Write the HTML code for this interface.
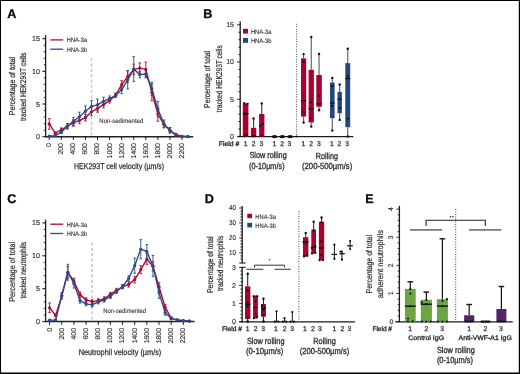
<!DOCTYPE html><html><head><meta charset="utf-8"><style>html,body{margin:0;padding:0;background:#fff;}svg{display:block;will-change:transform;}text{font-family:"Liberation Sans",sans-serif;stroke:#2a2a2a;stroke-width:0.32px;text-rendering:geometricPrecision;}</style></head><body>
<svg width="520" height="374" viewBox="0 0 520 374">
<rect x="0" y="0" width="520" height="374" fill="#fff"/>
<rect x="0" y="0" width="520" height="1" fill="#000"/><rect x="0" y="0" width="1" height="374" fill="#000"/><rect x="518.8" y="0" width="1.2" height="374" fill="#000"/><rect x="0" y="372.5" width="520" height="1.5" fill="#000"/>
<line x1="45.6" y1="35.2" x2="45.6" y2="137.3" stroke="#1a1a1a" stroke-width="1.3" />
<line x1="42.4" y1="136.7" x2="45.6" y2="136.7" stroke="#1a1a1a" stroke-width="1.1" />
<text x="39.9" y="139.2" font-size="7.2" text-anchor="end" font-weight="normal" fill="#333" style="stroke-width:0.15px">0</text>
<line x1="43.8" y1="130.16" x2="45.6" y2="130.16" stroke="#1a1a1a" stroke-width="0.9" />
<line x1="43.8" y1="123.63" x2="45.6" y2="123.63" stroke="#1a1a1a" stroke-width="0.9" />
<line x1="43.8" y1="117.09" x2="45.6" y2="117.09" stroke="#1a1a1a" stroke-width="0.9" />
<line x1="43.8" y1="110.56" x2="45.6" y2="110.56" stroke="#1a1a1a" stroke-width="0.9" />
<line x1="42.4" y1="104.02" x2="45.6" y2="104.02" stroke="#1a1a1a" stroke-width="1.1" />
<text x="39.9" y="106.52" font-size="7.2" text-anchor="end" font-weight="normal" fill="#333" style="stroke-width:0.15px">5</text>
<line x1="43.8" y1="97.49" x2="45.6" y2="97.49" stroke="#1a1a1a" stroke-width="0.9" />
<line x1="43.8" y1="90.95" x2="45.6" y2="90.95" stroke="#1a1a1a" stroke-width="0.9" />
<line x1="43.8" y1="84.42" x2="45.6" y2="84.42" stroke="#1a1a1a" stroke-width="0.9" />
<line x1="43.8" y1="77.88" x2="45.6" y2="77.88" stroke="#1a1a1a" stroke-width="0.9" />
<line x1="42.4" y1="71.35" x2="45.6" y2="71.35" stroke="#1a1a1a" stroke-width="1.1" />
<text x="39.9" y="73.85" font-size="7.2" text-anchor="end" font-weight="normal" fill="#333" style="stroke-width:0.15px">10</text>
<line x1="43.8" y1="64.81" x2="45.6" y2="64.81" stroke="#1a1a1a" stroke-width="0.9" />
<line x1="43.8" y1="58.28" x2="45.6" y2="58.28" stroke="#1a1a1a" stroke-width="0.9" />
<line x1="43.8" y1="51.74" x2="45.6" y2="51.74" stroke="#1a1a1a" stroke-width="0.9" />
<line x1="43.8" y1="45.21" x2="45.6" y2="45.21" stroke="#1a1a1a" stroke-width="0.9" />
<line x1="42.4" y1="38.67" x2="45.6" y2="38.67" stroke="#1a1a1a" stroke-width="1.1" />
<text x="39.9" y="41.17" font-size="7.2" text-anchor="end" font-weight="normal" fill="#333" style="stroke-width:0.15px">15</text>
<line x1="45" y1="136.7" x2="193.19" y2="136.7" stroke="#222" stroke-width="1.5" />
<line x1="49.25" y1="136.7" x2="49.25" y2="139.9" stroke="#1a1a1a" stroke-width="1" />
<text transform="translate(51.15,143.1) rotate(-90)" font-size="6.9" text-anchor="end" font-weight="normal" fill="#333" style="stroke-width:0.15px">0</text>
<line x1="61.32" y1="136.7" x2="61.32" y2="139.9" stroke="#1a1a1a" stroke-width="1" />
<text transform="translate(63.22,143.1) rotate(-90)" font-size="6.9" text-anchor="end" font-weight="normal" fill="#333" style="stroke-width:0.15px">200</text>
<line x1="73.39" y1="136.7" x2="73.39" y2="139.9" stroke="#1a1a1a" stroke-width="1" />
<text transform="translate(75.29,143.1) rotate(-90)" font-size="6.9" text-anchor="end" font-weight="normal" fill="#333" style="stroke-width:0.15px">400</text>
<line x1="85.46" y1="136.7" x2="85.46" y2="139.9" stroke="#1a1a1a" stroke-width="1" />
<text transform="translate(87.36,143.1) rotate(-90)" font-size="6.9" text-anchor="end" font-weight="normal" fill="#333" style="stroke-width:0.15px">600</text>
<line x1="97.53" y1="136.7" x2="97.53" y2="139.9" stroke="#1a1a1a" stroke-width="1" />
<text transform="translate(99.43,143.1) rotate(-90)" font-size="6.9" text-anchor="end" font-weight="normal" fill="#333" style="stroke-width:0.15px">800</text>
<line x1="109.6" y1="136.7" x2="109.6" y2="139.9" stroke="#1a1a1a" stroke-width="1" />
<text transform="translate(111.5,143.1) rotate(-90)" font-size="6.9" text-anchor="end" font-weight="normal" fill="#333" style="stroke-width:0.15px">1000</text>
<line x1="121.67" y1="136.7" x2="121.67" y2="139.9" stroke="#1a1a1a" stroke-width="1" />
<text transform="translate(123.57,143.1) rotate(-90)" font-size="6.9" text-anchor="end" font-weight="normal" fill="#333" style="stroke-width:0.15px">1200</text>
<line x1="133.74" y1="136.7" x2="133.74" y2="139.9" stroke="#1a1a1a" stroke-width="1" />
<text transform="translate(135.64,143.1) rotate(-90)" font-size="6.9" text-anchor="end" font-weight="normal" fill="#333" style="stroke-width:0.15px">1400</text>
<line x1="145.81" y1="136.7" x2="145.81" y2="139.9" stroke="#1a1a1a" stroke-width="1" />
<text transform="translate(147.71,143.1) rotate(-90)" font-size="6.9" text-anchor="end" font-weight="normal" fill="#333" style="stroke-width:0.15px">1600</text>
<line x1="157.88" y1="136.7" x2="157.88" y2="139.9" stroke="#1a1a1a" stroke-width="1" />
<text transform="translate(159.78,143.1) rotate(-90)" font-size="6.9" text-anchor="end" font-weight="normal" fill="#333" style="stroke-width:0.15px">1800</text>
<line x1="169.95" y1="136.7" x2="169.95" y2="139.9" stroke="#1a1a1a" stroke-width="1" />
<text transform="translate(171.85,143.1) rotate(-90)" font-size="6.9" text-anchor="end" font-weight="normal" fill="#333" style="stroke-width:0.15px">2000</text>
<line x1="182.02" y1="136.7" x2="182.02" y2="139.9" stroke="#1a1a1a" stroke-width="1" />
<text transform="translate(183.92,143.1) rotate(-90)" font-size="6.9" text-anchor="end" font-weight="normal" fill="#333" style="stroke-width:0.15px">2200</text>
<line x1="91.5" y1="58.2" x2="91.5" y2="136.2" stroke="#c6c6c6" stroke-width="1.5" stroke-dasharray="3.1 2.2"/>
<text x="99.3" y="123" font-size="6.5" text-anchor="start" font-weight="normal" fill="#333" textLength="44" lengthAdjust="spacingAndGlyphs" style="stroke-width:0.1px">Non-sedimented</text>
<polyline points="49.25,123.96 55.28,133.24 61.32,129.84 67.36,126.24 73.39,122.98 79.42,120.36 85.46,117.75 91.5,111.87 97.53,108.34 103.56,104.55 109.6,100.37 115.64,95.27 121.67,84.62 127.7,76.58 133.74,69.39 139.78,68.08 145.81,69.39 151.84,92.26 157.88,114.02 163.92,124.41 169.95,130.23 175.99,135.59 182.02,136.37 188.06,136.57" fill="none" stroke="#b5062f" stroke-width="1.4" stroke-linejoin="round"/>
<line x1="49.25" y1="118.73" x2="49.25" y2="129.18" stroke="#b5062f" stroke-width="0.9" />
<line x1="47.95" y1="118.73" x2="50.55" y2="118.73" stroke="#b5062f" stroke-width="0.9" />
<line x1="47.95" y1="129.18" x2="50.55" y2="129.18" stroke="#b5062f" stroke-width="0.9" />
<circle cx="49.25" cy="123.96" r="1.6" fill="#b5062f"/>
<line x1="55.28" y1="131.93" x2="55.28" y2="134.54" stroke="#b5062f" stroke-width="0.9" />
<line x1="53.98" y1="131.93" x2="56.58" y2="131.93" stroke="#b5062f" stroke-width="0.9" />
<line x1="53.98" y1="134.54" x2="56.58" y2="134.54" stroke="#b5062f" stroke-width="0.9" />
<circle cx="55.28" cy="133.24" r="1.6" fill="#b5062f"/>
<line x1="61.32" y1="127.88" x2="61.32" y2="131.8" stroke="#b5062f" stroke-width="0.9" />
<line x1="60.02" y1="127.88" x2="62.62" y2="127.88" stroke="#b5062f" stroke-width="0.9" />
<line x1="60.02" y1="131.8" x2="62.62" y2="131.8" stroke="#b5062f" stroke-width="0.9" />
<circle cx="61.32" cy="129.84" r="1.6" fill="#b5062f"/>
<line x1="67.36" y1="123.63" x2="67.36" y2="128.86" stroke="#b5062f" stroke-width="0.9" />
<line x1="66.06" y1="123.63" x2="68.66" y2="123.63" stroke="#b5062f" stroke-width="0.9" />
<line x1="66.06" y1="128.86" x2="68.66" y2="128.86" stroke="#b5062f" stroke-width="0.9" />
<circle cx="67.36" cy="126.24" r="1.6" fill="#b5062f"/>
<line x1="73.39" y1="119.71" x2="73.39" y2="126.24" stroke="#b5062f" stroke-width="0.9" />
<line x1="72.09" y1="119.71" x2="74.69" y2="119.71" stroke="#b5062f" stroke-width="0.9" />
<line x1="72.09" y1="126.24" x2="74.69" y2="126.24" stroke="#b5062f" stroke-width="0.9" />
<circle cx="73.39" cy="122.98" r="1.6" fill="#b5062f"/>
<line x1="79.42" y1="117.09" x2="79.42" y2="123.63" stroke="#b5062f" stroke-width="0.9" />
<line x1="78.12" y1="117.09" x2="80.72" y2="117.09" stroke="#b5062f" stroke-width="0.9" />
<line x1="78.12" y1="123.63" x2="80.72" y2="123.63" stroke="#b5062f" stroke-width="0.9" />
<circle cx="79.42" cy="120.36" r="1.6" fill="#b5062f"/>
<line x1="85.46" y1="114.48" x2="85.46" y2="121.02" stroke="#b5062f" stroke-width="0.9" />
<line x1="84.16" y1="114.48" x2="86.76" y2="114.48" stroke="#b5062f" stroke-width="0.9" />
<line x1="84.16" y1="121.02" x2="86.76" y2="121.02" stroke="#b5062f" stroke-width="0.9" />
<circle cx="85.46" cy="117.75" r="1.6" fill="#b5062f"/>
<line x1="91.5" y1="107.95" x2="91.5" y2="115.79" stroke="#b5062f" stroke-width="0.9" />
<line x1="90.2" y1="107.95" x2="92.8" y2="107.95" stroke="#b5062f" stroke-width="0.9" />
<line x1="90.2" y1="115.79" x2="92.8" y2="115.79" stroke="#b5062f" stroke-width="0.9" />
<circle cx="91.5" cy="111.87" r="1.6" fill="#b5062f"/>
<line x1="97.53" y1="104.42" x2="97.53" y2="112.26" stroke="#b5062f" stroke-width="0.9" />
<line x1="96.23" y1="104.42" x2="98.83" y2="104.42" stroke="#b5062f" stroke-width="0.9" />
<line x1="96.23" y1="112.26" x2="98.83" y2="112.26" stroke="#b5062f" stroke-width="0.9" />
<circle cx="97.53" cy="108.34" r="1.6" fill="#b5062f"/>
<line x1="103.56" y1="101.28" x2="103.56" y2="107.82" stroke="#b5062f" stroke-width="0.9" />
<line x1="102.27" y1="101.28" x2="104.86" y2="101.28" stroke="#b5062f" stroke-width="0.9" />
<line x1="102.27" y1="107.82" x2="104.86" y2="107.82" stroke="#b5062f" stroke-width="0.9" />
<circle cx="103.56" cy="104.55" r="1.6" fill="#b5062f"/>
<line x1="109.6" y1="97.75" x2="109.6" y2="102.98" stroke="#b5062f" stroke-width="0.9" />
<line x1="108.3" y1="97.75" x2="110.9" y2="97.75" stroke="#b5062f" stroke-width="0.9" />
<line x1="108.3" y1="102.98" x2="110.9" y2="102.98" stroke="#b5062f" stroke-width="0.9" />
<circle cx="109.6" cy="100.37" r="1.6" fill="#b5062f"/>
<line x1="115.64" y1="93.31" x2="115.64" y2="97.23" stroke="#b5062f" stroke-width="0.9" />
<line x1="114.34" y1="93.31" x2="116.94" y2="93.31" stroke="#b5062f" stroke-width="0.9" />
<line x1="114.34" y1="97.23" x2="116.94" y2="97.23" stroke="#b5062f" stroke-width="0.9" />
<circle cx="115.64" cy="95.27" r="1.6" fill="#b5062f"/>
<line x1="121.67" y1="80.7" x2="121.67" y2="88.54" stroke="#b5062f" stroke-width="0.9" />
<line x1="120.37" y1="80.7" x2="122.97" y2="80.7" stroke="#b5062f" stroke-width="0.9" />
<line x1="120.37" y1="88.54" x2="122.97" y2="88.54" stroke="#b5062f" stroke-width="0.9" />
<circle cx="121.67" cy="84.62" r="1.6" fill="#b5062f"/>
<line x1="127.7" y1="70.7" x2="127.7" y2="82.46" stroke="#b5062f" stroke-width="0.9" />
<line x1="126.41" y1="70.7" x2="129" y2="70.7" stroke="#b5062f" stroke-width="0.9" />
<line x1="126.41" y1="82.46" x2="129" y2="82.46" stroke="#b5062f" stroke-width="0.9" />
<circle cx="127.7" cy="76.58" r="1.6" fill="#b5062f"/>
<line x1="133.74" y1="64.16" x2="133.74" y2="74.62" stroke="#b5062f" stroke-width="0.9" />
<line x1="132.44" y1="64.16" x2="135.04" y2="64.16" stroke="#b5062f" stroke-width="0.9" />
<line x1="132.44" y1="74.62" x2="135.04" y2="74.62" stroke="#b5062f" stroke-width="0.9" />
<circle cx="133.74" cy="69.39" r="1.6" fill="#b5062f"/>
<line x1="139.78" y1="62.85" x2="139.78" y2="73.31" stroke="#b5062f" stroke-width="0.9" />
<line x1="138.47" y1="62.85" x2="141.08" y2="62.85" stroke="#b5062f" stroke-width="0.9" />
<line x1="138.47" y1="73.31" x2="141.08" y2="73.31" stroke="#b5062f" stroke-width="0.9" />
<circle cx="139.78" cy="68.08" r="1.6" fill="#b5062f"/>
<line x1="145.81" y1="62.2" x2="145.81" y2="76.58" stroke="#b5062f" stroke-width="0.9" />
<line x1="144.51" y1="62.2" x2="147.11" y2="62.2" stroke="#b5062f" stroke-width="0.9" />
<line x1="144.51" y1="76.58" x2="147.11" y2="76.58" stroke="#b5062f" stroke-width="0.9" />
<circle cx="145.81" cy="69.39" r="1.6" fill="#b5062f"/>
<line x1="151.84" y1="83.77" x2="151.84" y2="100.76" stroke="#b5062f" stroke-width="0.9" />
<line x1="150.54" y1="83.77" x2="153.15" y2="83.77" stroke="#b5062f" stroke-width="0.9" />
<line x1="150.54" y1="100.76" x2="153.15" y2="100.76" stroke="#b5062f" stroke-width="0.9" />
<circle cx="151.84" cy="92.26" r="1.6" fill="#b5062f"/>
<line x1="157.88" y1="106.84" x2="157.88" y2="121.21" stroke="#b5062f" stroke-width="0.9" />
<line x1="156.58" y1="106.84" x2="159.18" y2="106.84" stroke="#b5062f" stroke-width="0.9" />
<line x1="156.58" y1="121.21" x2="159.18" y2="121.21" stroke="#b5062f" stroke-width="0.9" />
<circle cx="157.88" cy="114.02" r="1.6" fill="#b5062f"/>
<line x1="163.92" y1="121.15" x2="163.92" y2="127.68" stroke="#b5062f" stroke-width="0.9" />
<line x1="162.62" y1="121.15" x2="165.22" y2="121.15" stroke="#b5062f" stroke-width="0.9" />
<line x1="162.62" y1="127.68" x2="165.22" y2="127.68" stroke="#b5062f" stroke-width="0.9" />
<circle cx="163.92" cy="124.41" r="1.6" fill="#b5062f"/>
<line x1="169.95" y1="127.62" x2="169.95" y2="132.84" stroke="#b5062f" stroke-width="0.9" />
<line x1="168.65" y1="127.62" x2="171.25" y2="127.62" stroke="#b5062f" stroke-width="0.9" />
<line x1="168.65" y1="132.84" x2="171.25" y2="132.84" stroke="#b5062f" stroke-width="0.9" />
<circle cx="169.95" cy="130.23" r="1.6" fill="#b5062f"/>
<circle cx="175.99" cy="135.59" r="1.6" fill="#b5062f"/>
<circle cx="182.02" cy="136.37" r="1.6" fill="#b5062f"/>
<circle cx="188.06" cy="136.57" r="1.6" fill="#b5062f"/>
<polyline points="49.25,136.05 55.28,135.72 61.32,132.13 67.36,126.24 73.39,121.34 79.42,116.77 85.46,111.21 91.5,106.31 97.53,104.94 103.56,101.15 109.6,98.54 115.64,95.27 121.67,89.71 127.7,79.85 133.74,69.06 139.78,74.62 145.81,73.96 151.84,88.67 157.88,109.25 163.92,123.83 169.95,130.43 175.99,134.54 182.02,136.37 188.06,136.57" fill="none" stroke="#2b4a86" stroke-width="1.4" stroke-linejoin="round"/>
<circle cx="49.25" cy="136.05" r="1.6" fill="#2b4a86"/>
<circle cx="55.28" cy="135.72" r="1.6" fill="#2b4a86"/>
<line x1="61.32" y1="130.82" x2="61.32" y2="133.43" stroke="#2b4a86" stroke-width="0.9" />
<line x1="60.02" y1="130.82" x2="62.62" y2="130.82" stroke="#2b4a86" stroke-width="0.9" />
<line x1="60.02" y1="133.43" x2="62.62" y2="133.43" stroke="#2b4a86" stroke-width="0.9" />
<circle cx="61.32" cy="132.13" r="1.6" fill="#2b4a86"/>
<line x1="67.36" y1="123.63" x2="67.36" y2="128.86" stroke="#2b4a86" stroke-width="0.9" />
<line x1="66.06" y1="123.63" x2="68.66" y2="123.63" stroke="#2b4a86" stroke-width="0.9" />
<line x1="66.06" y1="128.86" x2="68.66" y2="128.86" stroke="#2b4a86" stroke-width="0.9" />
<circle cx="67.36" cy="126.24" r="1.6" fill="#2b4a86"/>
<line x1="73.39" y1="117.42" x2="73.39" y2="125.26" stroke="#2b4a86" stroke-width="0.9" />
<line x1="72.09" y1="117.42" x2="74.69" y2="117.42" stroke="#2b4a86" stroke-width="0.9" />
<line x1="72.09" y1="125.26" x2="74.69" y2="125.26" stroke="#2b4a86" stroke-width="0.9" />
<circle cx="73.39" cy="121.34" r="1.6" fill="#2b4a86"/>
<line x1="79.42" y1="112.19" x2="79.42" y2="121.34" stroke="#2b4a86" stroke-width="0.9" />
<line x1="78.12" y1="112.19" x2="80.72" y2="112.19" stroke="#2b4a86" stroke-width="0.9" />
<line x1="78.12" y1="121.34" x2="80.72" y2="121.34" stroke="#2b4a86" stroke-width="0.9" />
<circle cx="79.42" cy="116.77" r="1.6" fill="#2b4a86"/>
<line x1="85.46" y1="105.99" x2="85.46" y2="116.44" stroke="#2b4a86" stroke-width="0.9" />
<line x1="84.16" y1="105.99" x2="86.76" y2="105.99" stroke="#2b4a86" stroke-width="0.9" />
<line x1="84.16" y1="116.44" x2="86.76" y2="116.44" stroke="#2b4a86" stroke-width="0.9" />
<circle cx="85.46" cy="111.21" r="1.6" fill="#2b4a86"/>
<line x1="91.5" y1="100.43" x2="91.5" y2="112.19" stroke="#2b4a86" stroke-width="0.9" />
<line x1="90.2" y1="100.43" x2="92.8" y2="100.43" stroke="#2b4a86" stroke-width="0.9" />
<line x1="90.2" y1="112.19" x2="92.8" y2="112.19" stroke="#2b4a86" stroke-width="0.9" />
<circle cx="91.5" cy="106.31" r="1.6" fill="#2b4a86"/>
<line x1="97.53" y1="99.06" x2="97.53" y2="110.82" stroke="#2b4a86" stroke-width="0.9" />
<line x1="96.23" y1="99.06" x2="98.83" y2="99.06" stroke="#2b4a86" stroke-width="0.9" />
<line x1="96.23" y1="110.82" x2="98.83" y2="110.82" stroke="#2b4a86" stroke-width="0.9" />
<circle cx="97.53" cy="104.94" r="1.6" fill="#2b4a86"/>
<line x1="103.56" y1="97.23" x2="103.56" y2="105.07" stroke="#2b4a86" stroke-width="0.9" />
<line x1="102.27" y1="97.23" x2="104.86" y2="97.23" stroke="#2b4a86" stroke-width="0.9" />
<line x1="102.27" y1="105.07" x2="104.86" y2="105.07" stroke="#2b4a86" stroke-width="0.9" />
<circle cx="103.56" cy="101.15" r="1.6" fill="#2b4a86"/>
<line x1="109.6" y1="95.92" x2="109.6" y2="101.15" stroke="#2b4a86" stroke-width="0.9" />
<line x1="108.3" y1="95.92" x2="110.9" y2="95.92" stroke="#2b4a86" stroke-width="0.9" />
<line x1="108.3" y1="101.15" x2="110.9" y2="101.15" stroke="#2b4a86" stroke-width="0.9" />
<circle cx="109.6" cy="98.54" r="1.6" fill="#2b4a86"/>
<line x1="115.64" y1="93.31" x2="115.64" y2="97.23" stroke="#2b4a86" stroke-width="0.9" />
<line x1="114.34" y1="93.31" x2="116.94" y2="93.31" stroke="#2b4a86" stroke-width="0.9" />
<line x1="114.34" y1="97.23" x2="116.94" y2="97.23" stroke="#2b4a86" stroke-width="0.9" />
<circle cx="115.64" cy="95.27" r="1.6" fill="#2b4a86"/>
<line x1="121.67" y1="85.79" x2="121.67" y2="93.63" stroke="#2b4a86" stroke-width="0.9" />
<line x1="120.37" y1="85.79" x2="122.97" y2="85.79" stroke="#2b4a86" stroke-width="0.9" />
<line x1="120.37" y1="93.63" x2="122.97" y2="93.63" stroke="#2b4a86" stroke-width="0.9" />
<circle cx="121.67" cy="89.71" r="1.6" fill="#2b4a86"/>
<line x1="127.7" y1="70.7" x2="127.7" y2="88.99" stroke="#2b4a86" stroke-width="0.9" />
<line x1="126.41" y1="70.7" x2="129" y2="70.7" stroke="#2b4a86" stroke-width="0.9" />
<line x1="126.41" y1="88.99" x2="129" y2="88.99" stroke="#2b4a86" stroke-width="0.9" />
<circle cx="127.7" cy="79.85" r="1.6" fill="#2b4a86"/>
<line x1="133.74" y1="56.65" x2="133.74" y2="81.48" stroke="#2b4a86" stroke-width="0.9" />
<line x1="132.44" y1="56.65" x2="135.04" y2="56.65" stroke="#2b4a86" stroke-width="0.9" />
<line x1="132.44" y1="81.48" x2="135.04" y2="81.48" stroke="#2b4a86" stroke-width="0.9" />
<circle cx="133.74" cy="69.06" r="1.6" fill="#2b4a86"/>
<line x1="139.78" y1="71.35" x2="139.78" y2="77.88" stroke="#2b4a86" stroke-width="0.9" />
<line x1="138.47" y1="71.35" x2="141.08" y2="71.35" stroke="#2b4a86" stroke-width="0.9" />
<line x1="138.47" y1="77.88" x2="141.08" y2="77.88" stroke="#2b4a86" stroke-width="0.9" />
<circle cx="139.78" cy="74.62" r="1.6" fill="#2b4a86"/>
<line x1="145.81" y1="70.04" x2="145.81" y2="77.88" stroke="#2b4a86" stroke-width="0.9" />
<line x1="144.51" y1="70.04" x2="147.11" y2="70.04" stroke="#2b4a86" stroke-width="0.9" />
<line x1="144.51" y1="77.88" x2="147.11" y2="77.88" stroke="#2b4a86" stroke-width="0.9" />
<circle cx="145.81" cy="73.96" r="1.6" fill="#2b4a86"/>
<line x1="151.84" y1="82.13" x2="151.84" y2="95.2" stroke="#2b4a86" stroke-width="0.9" />
<line x1="150.54" y1="82.13" x2="153.15" y2="82.13" stroke="#2b4a86" stroke-width="0.9" />
<line x1="150.54" y1="95.2" x2="153.15" y2="95.2" stroke="#2b4a86" stroke-width="0.9" />
<circle cx="151.84" cy="88.67" r="1.6" fill="#2b4a86"/>
<line x1="157.88" y1="101.41" x2="157.88" y2="117.09" stroke="#2b4a86" stroke-width="0.9" />
<line x1="156.58" y1="101.41" x2="159.18" y2="101.41" stroke="#2b4a86" stroke-width="0.9" />
<line x1="156.58" y1="117.09" x2="159.18" y2="117.09" stroke="#2b4a86" stroke-width="0.9" />
<circle cx="157.88" cy="109.25" r="1.6" fill="#2b4a86"/>
<line x1="163.92" y1="119.91" x2="163.92" y2="127.75" stroke="#2b4a86" stroke-width="0.9" />
<line x1="162.62" y1="119.91" x2="165.22" y2="119.91" stroke="#2b4a86" stroke-width="0.9" />
<line x1="162.62" y1="127.75" x2="165.22" y2="127.75" stroke="#2b4a86" stroke-width="0.9" />
<circle cx="163.92" cy="123.83" r="1.6" fill="#2b4a86"/>
<line x1="169.95" y1="127.81" x2="169.95" y2="133.04" stroke="#2b4a86" stroke-width="0.9" />
<line x1="168.65" y1="127.81" x2="171.25" y2="127.81" stroke="#2b4a86" stroke-width="0.9" />
<line x1="168.65" y1="133.04" x2="171.25" y2="133.04" stroke="#2b4a86" stroke-width="0.9" />
<circle cx="169.95" cy="130.43" r="1.6" fill="#2b4a86"/>
<line x1="175.99" y1="133.24" x2="175.99" y2="135.85" stroke="#2b4a86" stroke-width="0.9" />
<line x1="174.69" y1="133.24" x2="177.29" y2="133.24" stroke="#2b4a86" stroke-width="0.9" />
<line x1="174.69" y1="135.85" x2="177.29" y2="135.85" stroke="#2b4a86" stroke-width="0.9" />
<circle cx="175.99" cy="134.54" r="1.6" fill="#2b4a86"/>
<circle cx="182.02" cy="136.37" r="1.6" fill="#2b4a86"/>
<circle cx="188.06" cy="136.57" r="1.6" fill="#2b4a86"/>
<line x1="50.3" y1="39.9" x2="63.2" y2="39.9" stroke="#b5062f" stroke-width="1.3" />
<line x1="50.3" y1="49.2" x2="63.2" y2="49.2" stroke="#2b4a86" stroke-width="1.3" />
<text x="66.8" y="42.2" font-size="6.5" text-anchor="start" font-weight="normal" fill="#333" textLength="20.3" lengthAdjust="spacingAndGlyphs" style="stroke-width:0.12px">HNA-3a</text>
<text x="66.8" y="51.5" font-size="6.5" text-anchor="start" font-weight="normal" fill="#333" textLength="20.3" lengthAdjust="spacingAndGlyphs" style="stroke-width:0.12px">HNA-3b</text>
<text x="7.3" y="17.7" font-size="12.6" text-anchor="start" font-weight="bold" fill="#000">A</text>
<text transform="translate(15.2,86.1) rotate(-90)" font-size="8.4" text-anchor="middle" font-weight="normal" fill="#333" textLength="58.2" lengthAdjust="spacingAndGlyphs" style="stroke-width:0.22px">Percentage of total</text>
<text transform="translate(26.2,86.8) rotate(-90)" font-size="8.4" text-anchor="middle" font-weight="normal" fill="#333" textLength="68.6" lengthAdjust="spacingAndGlyphs" style="stroke-width:0.22px">tracked HEK293T cells</text>
<text x="74" y="169.2" font-size="8.4" text-anchor="start" font-weight="normal" fill="#333" textLength="90.2" lengthAdjust="spacingAndGlyphs" style="stroke-width:0.25px">HEK293T cell velocity (µm/s)</text>
<line x1="45.6" y1="219.8" x2="45.6" y2="322.2" stroke="#1a1a1a" stroke-width="1.3" />
<line x1="42.4" y1="321.6" x2="45.6" y2="321.6" stroke="#1a1a1a" stroke-width="1.1" />
<text x="39.9" y="324.1" font-size="7.2" text-anchor="end" font-weight="normal" fill="#333" style="stroke-width:0.15px">0</text>
<line x1="43.8" y1="315.02" x2="45.6" y2="315.02" stroke="#1a1a1a" stroke-width="0.9" />
<line x1="43.8" y1="308.44" x2="45.6" y2="308.44" stroke="#1a1a1a" stroke-width="0.9" />
<line x1="43.8" y1="301.86" x2="45.6" y2="301.86" stroke="#1a1a1a" stroke-width="0.9" />
<line x1="43.8" y1="295.28" x2="45.6" y2="295.28" stroke="#1a1a1a" stroke-width="0.9" />
<line x1="42.4" y1="288.7" x2="45.6" y2="288.7" stroke="#1a1a1a" stroke-width="1.1" />
<text x="39.9" y="291.2" font-size="7.2" text-anchor="end" font-weight="normal" fill="#333" style="stroke-width:0.15px">5</text>
<line x1="43.8" y1="282.12" x2="45.6" y2="282.12" stroke="#1a1a1a" stroke-width="0.9" />
<line x1="43.8" y1="275.54" x2="45.6" y2="275.54" stroke="#1a1a1a" stroke-width="0.9" />
<line x1="43.8" y1="268.96" x2="45.6" y2="268.96" stroke="#1a1a1a" stroke-width="0.9" />
<line x1="43.8" y1="262.38" x2="45.6" y2="262.38" stroke="#1a1a1a" stroke-width="0.9" />
<line x1="42.4" y1="255.8" x2="45.6" y2="255.8" stroke="#1a1a1a" stroke-width="1.1" />
<text x="39.9" y="258.3" font-size="7.2" text-anchor="end" font-weight="normal" fill="#333" style="stroke-width:0.15px">10</text>
<line x1="43.8" y1="249.22" x2="45.6" y2="249.22" stroke="#1a1a1a" stroke-width="0.9" />
<line x1="43.8" y1="242.64" x2="45.6" y2="242.64" stroke="#1a1a1a" stroke-width="0.9" />
<line x1="43.8" y1="236.06" x2="45.6" y2="236.06" stroke="#1a1a1a" stroke-width="0.9" />
<line x1="43.8" y1="229.48" x2="45.6" y2="229.48" stroke="#1a1a1a" stroke-width="0.9" />
<line x1="42.4" y1="222.9" x2="45.6" y2="222.9" stroke="#1a1a1a" stroke-width="1.1" />
<text x="39.9" y="225.4" font-size="7.2" text-anchor="end" font-weight="normal" fill="#333" style="stroke-width:0.15px">15</text>
<line x1="45" y1="321.6" x2="194.61" y2="321.6" stroke="#222" stroke-width="1.5" />
<line x1="49.6" y1="321.6" x2="49.6" y2="324.8" stroke="#1a1a1a" stroke-width="1" />
<text transform="translate(51.5,328) rotate(-90)" font-size="6.9" text-anchor="end" font-weight="normal" fill="#333" style="stroke-width:0.15px">0</text>
<line x1="61.76" y1="321.6" x2="61.76" y2="324.8" stroke="#1a1a1a" stroke-width="1" />
<text transform="translate(63.66,328) rotate(-90)" font-size="6.9" text-anchor="end" font-weight="normal" fill="#333" style="stroke-width:0.15px">200</text>
<line x1="73.92" y1="321.6" x2="73.92" y2="324.8" stroke="#1a1a1a" stroke-width="1" />
<text transform="translate(75.82,328) rotate(-90)" font-size="6.9" text-anchor="end" font-weight="normal" fill="#333" style="stroke-width:0.15px">400</text>
<line x1="86.08" y1="321.6" x2="86.08" y2="324.8" stroke="#1a1a1a" stroke-width="1" />
<text transform="translate(87.98,328) rotate(-90)" font-size="6.9" text-anchor="end" font-weight="normal" fill="#333" style="stroke-width:0.15px">600</text>
<line x1="98.24" y1="321.6" x2="98.24" y2="324.8" stroke="#1a1a1a" stroke-width="1" />
<text transform="translate(100.14,328) rotate(-90)" font-size="6.9" text-anchor="end" font-weight="normal" fill="#333" style="stroke-width:0.15px">800</text>
<line x1="110.4" y1="321.6" x2="110.4" y2="324.8" stroke="#1a1a1a" stroke-width="1" />
<text transform="translate(112.3,328) rotate(-90)" font-size="6.9" text-anchor="end" font-weight="normal" fill="#333" style="stroke-width:0.15px">1000</text>
<line x1="122.56" y1="321.6" x2="122.56" y2="324.8" stroke="#1a1a1a" stroke-width="1" />
<text transform="translate(124.46,328) rotate(-90)" font-size="6.9" text-anchor="end" font-weight="normal" fill="#333" style="stroke-width:0.15px">1200</text>
<line x1="134.72" y1="321.6" x2="134.72" y2="324.8" stroke="#1a1a1a" stroke-width="1" />
<text transform="translate(136.62,328) rotate(-90)" font-size="6.9" text-anchor="end" font-weight="normal" fill="#333" style="stroke-width:0.15px">1400</text>
<line x1="146.88" y1="321.6" x2="146.88" y2="324.8" stroke="#1a1a1a" stroke-width="1" />
<text transform="translate(148.78,328) rotate(-90)" font-size="6.9" text-anchor="end" font-weight="normal" fill="#333" style="stroke-width:0.15px">1600</text>
<line x1="159.04" y1="321.6" x2="159.04" y2="324.8" stroke="#1a1a1a" stroke-width="1" />
<text transform="translate(160.94,328) rotate(-90)" font-size="6.9" text-anchor="end" font-weight="normal" fill="#333" style="stroke-width:0.15px">1800</text>
<line x1="171.2" y1="321.6" x2="171.2" y2="324.8" stroke="#1a1a1a" stroke-width="1" />
<text transform="translate(173.1,328) rotate(-90)" font-size="6.9" text-anchor="end" font-weight="normal" fill="#333" style="stroke-width:0.15px">2000</text>
<line x1="183.36" y1="321.6" x2="183.36" y2="324.8" stroke="#1a1a1a" stroke-width="1" />
<text transform="translate(185.26,328) rotate(-90)" font-size="6.9" text-anchor="end" font-weight="normal" fill="#333" style="stroke-width:0.15px">2200</text>
<line x1="92.16" y1="242.5" x2="92.16" y2="321.1" stroke="#c6c6c6" stroke-width="1.5" stroke-dasharray="3.1 2.2"/>
<text x="103.3" y="312.6" font-size="6.5" text-anchor="start" font-weight="normal" fill="#333" textLength="42.8" lengthAdjust="spacingAndGlyphs" style="stroke-width:0.1px">Non-sedimented</text>
<polyline points="49.6,307.78 55.68,315.41 61.76,295.94 67.84,272.51 73.92,281.46 80,294.62 86.08,299.89 92.16,301.66 98.24,300.68 104.32,298.77 110.4,294.36 116.48,290.28 122.56,286.73 128.64,284.42 134.72,279.62 140.8,269.62 146.88,259.09 152.96,266.33 159.04,286.73 165.12,307.12 171.2,318.31 177.28,319.89 183.36,320.61 189.44,321.07" fill="none" stroke="#b5062f" stroke-width="1.4" stroke-linejoin="round"/>
<line x1="49.6" y1="302.98" x2="49.6" y2="312.59" stroke="#b5062f" stroke-width="0.9" />
<line x1="48.3" y1="302.98" x2="50.9" y2="302.98" stroke="#b5062f" stroke-width="0.9" />
<line x1="48.3" y1="312.59" x2="50.9" y2="312.59" stroke="#b5062f" stroke-width="0.9" />
<circle cx="49.6" cy="307.78" r="1.6" fill="#b5062f"/>
<line x1="55.68" y1="314.1" x2="55.68" y2="316.73" stroke="#b5062f" stroke-width="0.9" />
<line x1="54.38" y1="314.1" x2="56.98" y2="314.1" stroke="#b5062f" stroke-width="0.9" />
<line x1="54.38" y1="316.73" x2="56.98" y2="316.73" stroke="#b5062f" stroke-width="0.9" />
<circle cx="55.68" cy="315.41" r="1.6" fill="#b5062f"/>
<line x1="61.76" y1="293.31" x2="61.76" y2="298.57" stroke="#b5062f" stroke-width="0.9" />
<line x1="60.46" y1="293.31" x2="63.06" y2="293.31" stroke="#b5062f" stroke-width="0.9" />
<line x1="60.46" y1="298.57" x2="63.06" y2="298.57" stroke="#b5062f" stroke-width="0.9" />
<circle cx="61.76" cy="295.94" r="1.6" fill="#b5062f"/>
<line x1="67.84" y1="266.59" x2="67.84" y2="278.44" stroke="#b5062f" stroke-width="0.9" />
<line x1="66.54" y1="266.59" x2="69.14" y2="266.59" stroke="#b5062f" stroke-width="0.9" />
<line x1="66.54" y1="278.44" x2="69.14" y2="278.44" stroke="#b5062f" stroke-width="0.9" />
<circle cx="67.84" cy="272.51" r="1.6" fill="#b5062f"/>
<line x1="73.92" y1="278.17" x2="73.92" y2="284.75" stroke="#b5062f" stroke-width="0.9" />
<line x1="72.62" y1="278.17" x2="75.22" y2="278.17" stroke="#b5062f" stroke-width="0.9" />
<line x1="72.62" y1="284.75" x2="75.22" y2="284.75" stroke="#b5062f" stroke-width="0.9" />
<circle cx="73.92" cy="281.46" r="1.6" fill="#b5062f"/>
<line x1="80" y1="291.99" x2="80" y2="297.25" stroke="#b5062f" stroke-width="0.9" />
<line x1="78.7" y1="291.99" x2="81.3" y2="291.99" stroke="#b5062f" stroke-width="0.9" />
<line x1="78.7" y1="297.25" x2="81.3" y2="297.25" stroke="#b5062f" stroke-width="0.9" />
<circle cx="80" cy="294.62" r="1.6" fill="#b5062f"/>
<line x1="86.08" y1="297.91" x2="86.08" y2="301.86" stroke="#b5062f" stroke-width="0.9" />
<line x1="84.78" y1="297.91" x2="87.38" y2="297.91" stroke="#b5062f" stroke-width="0.9" />
<line x1="84.78" y1="301.86" x2="87.38" y2="301.86" stroke="#b5062f" stroke-width="0.9" />
<circle cx="86.08" cy="299.89" r="1.6" fill="#b5062f"/>
<line x1="92.16" y1="299.69" x2="92.16" y2="303.64" stroke="#b5062f" stroke-width="0.9" />
<line x1="90.86" y1="299.69" x2="93.46" y2="299.69" stroke="#b5062f" stroke-width="0.9" />
<line x1="90.86" y1="303.64" x2="93.46" y2="303.64" stroke="#b5062f" stroke-width="0.9" />
<circle cx="92.16" cy="301.66" r="1.6" fill="#b5062f"/>
<line x1="98.24" y1="298.7" x2="98.24" y2="302.65" stroke="#b5062f" stroke-width="0.9" />
<line x1="96.94" y1="298.7" x2="99.54" y2="298.7" stroke="#b5062f" stroke-width="0.9" />
<line x1="96.94" y1="302.65" x2="99.54" y2="302.65" stroke="#b5062f" stroke-width="0.9" />
<circle cx="98.24" cy="300.68" r="1.6" fill="#b5062f"/>
<line x1="104.32" y1="296.79" x2="104.32" y2="300.74" stroke="#b5062f" stroke-width="0.9" />
<line x1="103.02" y1="296.79" x2="105.62" y2="296.79" stroke="#b5062f" stroke-width="0.9" />
<line x1="103.02" y1="300.74" x2="105.62" y2="300.74" stroke="#b5062f" stroke-width="0.9" />
<circle cx="104.32" cy="298.77" r="1.6" fill="#b5062f"/>
<line x1="110.4" y1="292.38" x2="110.4" y2="296.33" stroke="#b5062f" stroke-width="0.9" />
<line x1="109.1" y1="292.38" x2="111.7" y2="292.38" stroke="#b5062f" stroke-width="0.9" />
<line x1="109.1" y1="296.33" x2="111.7" y2="296.33" stroke="#b5062f" stroke-width="0.9" />
<circle cx="110.4" cy="294.36" r="1.6" fill="#b5062f"/>
<line x1="116.48" y1="288.31" x2="116.48" y2="292.25" stroke="#b5062f" stroke-width="0.9" />
<line x1="115.18" y1="288.31" x2="117.78" y2="288.31" stroke="#b5062f" stroke-width="0.9" />
<line x1="115.18" y1="292.25" x2="117.78" y2="292.25" stroke="#b5062f" stroke-width="0.9" />
<circle cx="116.48" cy="290.28" r="1.6" fill="#b5062f"/>
<line x1="122.56" y1="284.75" x2="122.56" y2="288.7" stroke="#b5062f" stroke-width="0.9" />
<line x1="121.26" y1="284.75" x2="123.86" y2="284.75" stroke="#b5062f" stroke-width="0.9" />
<line x1="121.26" y1="288.7" x2="123.86" y2="288.7" stroke="#b5062f" stroke-width="0.9" />
<circle cx="122.56" cy="286.73" r="1.6" fill="#b5062f"/>
<line x1="128.64" y1="281.79" x2="128.64" y2="287.06" stroke="#b5062f" stroke-width="0.9" />
<line x1="127.34" y1="281.79" x2="129.94" y2="281.79" stroke="#b5062f" stroke-width="0.9" />
<line x1="127.34" y1="287.06" x2="129.94" y2="287.06" stroke="#b5062f" stroke-width="0.9" />
<circle cx="128.64" cy="284.42" r="1.6" fill="#b5062f"/>
<line x1="134.72" y1="276.33" x2="134.72" y2="282.91" stroke="#b5062f" stroke-width="0.9" />
<line x1="133.42" y1="276.33" x2="136.02" y2="276.33" stroke="#b5062f" stroke-width="0.9" />
<line x1="133.42" y1="282.91" x2="136.02" y2="282.91" stroke="#b5062f" stroke-width="0.9" />
<circle cx="134.72" cy="279.62" r="1.6" fill="#b5062f"/>
<line x1="140.8" y1="265.67" x2="140.8" y2="273.57" stroke="#b5062f" stroke-width="0.9" />
<line x1="139.5" y1="265.67" x2="142.1" y2="265.67" stroke="#b5062f" stroke-width="0.9" />
<line x1="139.5" y1="273.57" x2="142.1" y2="273.57" stroke="#b5062f" stroke-width="0.9" />
<circle cx="140.8" cy="269.62" r="1.6" fill="#b5062f"/>
<line x1="146.88" y1="253.83" x2="146.88" y2="264.35" stroke="#b5062f" stroke-width="0.9" />
<line x1="145.58" y1="253.83" x2="148.18" y2="253.83" stroke="#b5062f" stroke-width="0.9" />
<line x1="145.58" y1="264.35" x2="148.18" y2="264.35" stroke="#b5062f" stroke-width="0.9" />
<circle cx="146.88" cy="259.09" r="1.6" fill="#b5062f"/>
<line x1="152.96" y1="261.72" x2="152.96" y2="270.93" stroke="#b5062f" stroke-width="0.9" />
<line x1="151.66" y1="261.72" x2="154.26" y2="261.72" stroke="#b5062f" stroke-width="0.9" />
<line x1="151.66" y1="270.93" x2="154.26" y2="270.93" stroke="#b5062f" stroke-width="0.9" />
<circle cx="152.96" cy="266.33" r="1.6" fill="#b5062f"/>
<line x1="159.04" y1="282.78" x2="159.04" y2="290.67" stroke="#b5062f" stroke-width="0.9" />
<line x1="157.74" y1="282.78" x2="160.34" y2="282.78" stroke="#b5062f" stroke-width="0.9" />
<line x1="157.74" y1="290.67" x2="160.34" y2="290.67" stroke="#b5062f" stroke-width="0.9" />
<circle cx="159.04" cy="286.73" r="1.6" fill="#b5062f"/>
<line x1="165.12" y1="304.49" x2="165.12" y2="309.76" stroke="#b5062f" stroke-width="0.9" />
<line x1="163.82" y1="304.49" x2="166.42" y2="304.49" stroke="#b5062f" stroke-width="0.9" />
<line x1="163.82" y1="309.76" x2="166.42" y2="309.76" stroke="#b5062f" stroke-width="0.9" />
<circle cx="165.12" cy="307.12" r="1.6" fill="#b5062f"/>
<line x1="171.2" y1="316.99" x2="171.2" y2="319.63" stroke="#b5062f" stroke-width="0.9" />
<line x1="169.9" y1="316.99" x2="172.5" y2="316.99" stroke="#b5062f" stroke-width="0.9" />
<line x1="169.9" y1="319.63" x2="172.5" y2="319.63" stroke="#b5062f" stroke-width="0.9" />
<circle cx="171.2" cy="318.31" r="1.6" fill="#b5062f"/>
<circle cx="177.28" cy="319.89" r="1.6" fill="#b5062f"/>
<circle cx="183.36" cy="320.61" r="1.6" fill="#b5062f"/>
<circle cx="189.44" cy="321.07" r="1.6" fill="#b5062f"/>
<polyline points="49.6,320.15 55.68,319.96 61.76,295.61 67.84,272.25 73.92,283.44 80,300.54 86.08,303.83 92.16,304.82 98.24,301.86 104.32,300.02 110.4,296.4 116.48,291.53 122.56,286.73 128.64,278.44 134.72,265.67 140.8,249.22 146.88,251.52 152.96,265.93 159.04,292.45 165.12,312.65 171.2,318.31 177.28,319.89 183.36,320.61 189.44,321.07" fill="none" stroke="#2b4a86" stroke-width="1.4" stroke-linejoin="round"/>
<circle cx="49.6" cy="320.15" r="1.6" fill="#2b4a86"/>
<circle cx="55.68" cy="319.96" r="1.6" fill="#2b4a86"/>
<line x1="61.76" y1="292.32" x2="61.76" y2="298.9" stroke="#2b4a86" stroke-width="0.9" />
<line x1="60.46" y1="292.32" x2="63.06" y2="292.32" stroke="#2b4a86" stroke-width="0.9" />
<line x1="60.46" y1="298.9" x2="63.06" y2="298.9" stroke="#2b4a86" stroke-width="0.9" />
<circle cx="61.76" cy="295.61" r="1.6" fill="#2b4a86"/>
<line x1="67.84" y1="264.35" x2="67.84" y2="280.15" stroke="#2b4a86" stroke-width="0.9" />
<line x1="66.54" y1="264.35" x2="69.14" y2="264.35" stroke="#2b4a86" stroke-width="0.9" />
<line x1="66.54" y1="280.15" x2="69.14" y2="280.15" stroke="#2b4a86" stroke-width="0.9" />
<circle cx="67.84" cy="272.25" r="1.6" fill="#2b4a86"/>
<line x1="73.92" y1="278.83" x2="73.92" y2="288.04" stroke="#2b4a86" stroke-width="0.9" />
<line x1="72.62" y1="278.83" x2="75.22" y2="278.83" stroke="#2b4a86" stroke-width="0.9" />
<line x1="72.62" y1="288.04" x2="75.22" y2="288.04" stroke="#2b4a86" stroke-width="0.9" />
<circle cx="73.92" cy="283.44" r="1.6" fill="#2b4a86"/>
<line x1="80" y1="297.91" x2="80" y2="303.18" stroke="#2b4a86" stroke-width="0.9" />
<line x1="78.7" y1="297.91" x2="81.3" y2="297.91" stroke="#2b4a86" stroke-width="0.9" />
<line x1="78.7" y1="303.18" x2="81.3" y2="303.18" stroke="#2b4a86" stroke-width="0.9" />
<circle cx="80" cy="300.54" r="1.6" fill="#2b4a86"/>
<line x1="86.08" y1="301.86" x2="86.08" y2="305.81" stroke="#2b4a86" stroke-width="0.9" />
<line x1="84.78" y1="301.86" x2="87.38" y2="301.86" stroke="#2b4a86" stroke-width="0.9" />
<line x1="84.78" y1="305.81" x2="87.38" y2="305.81" stroke="#2b4a86" stroke-width="0.9" />
<circle cx="86.08" cy="303.83" r="1.6" fill="#2b4a86"/>
<line x1="92.16" y1="302.85" x2="92.16" y2="306.8" stroke="#2b4a86" stroke-width="0.9" />
<line x1="90.86" y1="302.85" x2="93.46" y2="302.85" stroke="#2b4a86" stroke-width="0.9" />
<line x1="90.86" y1="306.8" x2="93.46" y2="306.8" stroke="#2b4a86" stroke-width="0.9" />
<circle cx="92.16" cy="304.82" r="1.6" fill="#2b4a86"/>
<line x1="98.24" y1="299.89" x2="98.24" y2="303.83" stroke="#2b4a86" stroke-width="0.9" />
<line x1="96.94" y1="299.89" x2="99.54" y2="299.89" stroke="#2b4a86" stroke-width="0.9" />
<line x1="96.94" y1="303.83" x2="99.54" y2="303.83" stroke="#2b4a86" stroke-width="0.9" />
<circle cx="98.24" cy="301.86" r="1.6" fill="#2b4a86"/>
<line x1="104.32" y1="298.04" x2="104.32" y2="301.99" stroke="#2b4a86" stroke-width="0.9" />
<line x1="103.02" y1="298.04" x2="105.62" y2="298.04" stroke="#2b4a86" stroke-width="0.9" />
<line x1="103.02" y1="301.99" x2="105.62" y2="301.99" stroke="#2b4a86" stroke-width="0.9" />
<circle cx="104.32" cy="300.02" r="1.6" fill="#2b4a86"/>
<line x1="110.4" y1="294.42" x2="110.4" y2="298.37" stroke="#2b4a86" stroke-width="0.9" />
<line x1="109.1" y1="294.42" x2="111.7" y2="294.42" stroke="#2b4a86" stroke-width="0.9" />
<line x1="109.1" y1="298.37" x2="111.7" y2="298.37" stroke="#2b4a86" stroke-width="0.9" />
<circle cx="110.4" cy="296.4" r="1.6" fill="#2b4a86"/>
<line x1="116.48" y1="289.56" x2="116.48" y2="293.5" stroke="#2b4a86" stroke-width="0.9" />
<line x1="115.18" y1="289.56" x2="117.78" y2="289.56" stroke="#2b4a86" stroke-width="0.9" />
<line x1="115.18" y1="293.5" x2="117.78" y2="293.5" stroke="#2b4a86" stroke-width="0.9" />
<circle cx="116.48" cy="291.53" r="1.6" fill="#2b4a86"/>
<line x1="122.56" y1="284.75" x2="122.56" y2="288.7" stroke="#2b4a86" stroke-width="0.9" />
<line x1="121.26" y1="284.75" x2="123.86" y2="284.75" stroke="#2b4a86" stroke-width="0.9" />
<line x1="121.26" y1="288.7" x2="123.86" y2="288.7" stroke="#2b4a86" stroke-width="0.9" />
<circle cx="122.56" cy="286.73" r="1.6" fill="#2b4a86"/>
<line x1="128.64" y1="275.8" x2="128.64" y2="281.07" stroke="#2b4a86" stroke-width="0.9" />
<line x1="127.34" y1="275.8" x2="129.94" y2="275.8" stroke="#2b4a86" stroke-width="0.9" />
<line x1="127.34" y1="281.07" x2="129.94" y2="281.07" stroke="#2b4a86" stroke-width="0.9" />
<circle cx="128.64" cy="278.44" r="1.6" fill="#2b4a86"/>
<line x1="134.72" y1="258.1" x2="134.72" y2="273.24" stroke="#2b4a86" stroke-width="0.9" />
<line x1="133.42" y1="258.1" x2="136.02" y2="258.1" stroke="#2b4a86" stroke-width="0.9" />
<line x1="133.42" y1="273.24" x2="136.02" y2="273.24" stroke="#2b4a86" stroke-width="0.9" />
<circle cx="134.72" cy="265.67" r="1.6" fill="#2b4a86"/>
<line x1="140.8" y1="239.61" x2="140.8" y2="258.83" stroke="#2b4a86" stroke-width="0.9" />
<line x1="139.5" y1="239.61" x2="142.1" y2="239.61" stroke="#2b4a86" stroke-width="0.9" />
<line x1="139.5" y1="258.83" x2="142.1" y2="258.83" stroke="#2b4a86" stroke-width="0.9" />
<circle cx="140.8" cy="249.22" r="1.6" fill="#2b4a86"/>
<line x1="146.88" y1="244.61" x2="146.88" y2="258.43" stroke="#2b4a86" stroke-width="0.9" />
<line x1="145.58" y1="244.61" x2="148.18" y2="244.61" stroke="#2b4a86" stroke-width="0.9" />
<line x1="145.58" y1="258.43" x2="148.18" y2="258.43" stroke="#2b4a86" stroke-width="0.9" />
<circle cx="146.88" cy="251.52" r="1.6" fill="#2b4a86"/>
<line x1="152.96" y1="255.41" x2="152.96" y2="276.46" stroke="#2b4a86" stroke-width="0.9" />
<line x1="151.66" y1="255.41" x2="154.26" y2="255.41" stroke="#2b4a86" stroke-width="0.9" />
<line x1="151.66" y1="276.46" x2="154.26" y2="276.46" stroke="#2b4a86" stroke-width="0.9" />
<circle cx="152.96" cy="265.93" r="1.6" fill="#2b4a86"/>
<line x1="159.04" y1="286.53" x2="159.04" y2="298.37" stroke="#2b4a86" stroke-width="0.9" />
<line x1="157.74" y1="286.53" x2="160.34" y2="286.53" stroke="#2b4a86" stroke-width="0.9" />
<line x1="157.74" y1="298.37" x2="160.34" y2="298.37" stroke="#2b4a86" stroke-width="0.9" />
<circle cx="159.04" cy="292.45" r="1.6" fill="#2b4a86"/>
<line x1="165.12" y1="310.02" x2="165.12" y2="315.28" stroke="#2b4a86" stroke-width="0.9" />
<line x1="163.82" y1="310.02" x2="166.42" y2="310.02" stroke="#2b4a86" stroke-width="0.9" />
<line x1="163.82" y1="315.28" x2="166.42" y2="315.28" stroke="#2b4a86" stroke-width="0.9" />
<circle cx="165.12" cy="312.65" r="1.6" fill="#2b4a86"/>
<line x1="171.2" y1="316.99" x2="171.2" y2="319.63" stroke="#2b4a86" stroke-width="0.9" />
<line x1="169.9" y1="316.99" x2="172.5" y2="316.99" stroke="#2b4a86" stroke-width="0.9" />
<line x1="169.9" y1="319.63" x2="172.5" y2="319.63" stroke="#2b4a86" stroke-width="0.9" />
<circle cx="171.2" cy="318.31" r="1.6" fill="#2b4a86"/>
<circle cx="177.28" cy="319.89" r="1.6" fill="#2b4a86"/>
<circle cx="183.36" cy="320.61" r="1.6" fill="#2b4a86"/>
<circle cx="189.44" cy="321.07" r="1.6" fill="#2b4a86"/>
<line x1="50.3" y1="224.2" x2="63.2" y2="224.2" stroke="#b5062f" stroke-width="1.3" />
<line x1="50.3" y1="233.5" x2="63.2" y2="233.5" stroke="#2b4a86" stroke-width="1.3" />
<text x="66.8" y="226.5" font-size="6.5" text-anchor="start" font-weight="normal" fill="#333" textLength="20.3" lengthAdjust="spacingAndGlyphs" style="stroke-width:0.12px">HNA-3a</text>
<text x="66.8" y="235.8" font-size="6.5" text-anchor="start" font-weight="normal" fill="#333" textLength="20.3" lengthAdjust="spacingAndGlyphs" style="stroke-width:0.12px">HNA-3b</text>
<text x="7.3" y="202.6" font-size="12.6" text-anchor="start" font-weight="bold" fill="#000">C</text>
<text transform="translate(15.2,271.8) rotate(-90)" font-size="8.4" text-anchor="middle" font-weight="normal" fill="#333" textLength="59.9" lengthAdjust="spacingAndGlyphs" style="stroke-width:0.22px">Percentage of total</text>
<text transform="translate(26.2,270.2) rotate(-90)" font-size="8.4" text-anchor="middle" font-weight="normal" fill="#333" textLength="56.7" lengthAdjust="spacingAndGlyphs" style="stroke-width:0.22px">tracked neutrophils</text>
<text x="78.7" y="355" font-size="8.4" text-anchor="start" font-weight="normal" fill="#333" textLength="82.6" lengthAdjust="spacingAndGlyphs" style="stroke-width:0.25px">Neutrophil velocity (µm/s)</text>
<text x="203.2" y="18" font-size="12.6" text-anchor="start" font-weight="bold" fill="#000">B</text>
<line x1="240.2" y1="21.2" x2="240.2" y2="137" stroke="#1a1a1a" stroke-width="1.3" />
<line x1="237" y1="136.4" x2="240.2" y2="136.4" stroke="#1a1a1a" stroke-width="0.9" />
<line x1="237" y1="99.2" x2="240.2" y2="99.2" stroke="#1a1a1a" stroke-width="0.9" />
<line x1="237" y1="62" x2="240.2" y2="62" stroke="#1a1a1a" stroke-width="0.9" />
<line x1="237" y1="24.8" x2="240.2" y2="24.8" stroke="#1a1a1a" stroke-width="0.9" />
<line x1="238.4" y1="128.96" x2="240.2" y2="128.96" stroke="#1a1a1a" stroke-width="0.9" />
<line x1="238.4" y1="121.52" x2="240.2" y2="121.52" stroke="#1a1a1a" stroke-width="0.9" />
<line x1="238.4" y1="114.08" x2="240.2" y2="114.08" stroke="#1a1a1a" stroke-width="0.9" />
<line x1="238.4" y1="106.64" x2="240.2" y2="106.64" stroke="#1a1a1a" stroke-width="0.9" />
<line x1="238.4" y1="91.76" x2="240.2" y2="91.76" stroke="#1a1a1a" stroke-width="0.9" />
<line x1="238.4" y1="84.32" x2="240.2" y2="84.32" stroke="#1a1a1a" stroke-width="0.9" />
<line x1="238.4" y1="76.88" x2="240.2" y2="76.88" stroke="#1a1a1a" stroke-width="0.9" />
<line x1="238.4" y1="69.44" x2="240.2" y2="69.44" stroke="#1a1a1a" stroke-width="0.9" />
<line x1="238.4" y1="54.56" x2="240.2" y2="54.56" stroke="#1a1a1a" stroke-width="0.9" />
<line x1="238.4" y1="47.12" x2="240.2" y2="47.12" stroke="#1a1a1a" stroke-width="0.9" />
<line x1="238.4" y1="39.68" x2="240.2" y2="39.68" stroke="#1a1a1a" stroke-width="0.9" />
<line x1="238.4" y1="32.24" x2="240.2" y2="32.24" stroke="#1a1a1a" stroke-width="0.9" />
<text x="234" y="138.8" font-size="7" text-anchor="end" font-weight="normal" fill="#333" style="stroke-width:0.15px">0</text>
<text x="234" y="101.6" font-size="7" text-anchor="end" font-weight="normal" fill="#333" style="stroke-width:0.15px">5</text>
<text x="234" y="64.4" font-size="7" text-anchor="end" font-weight="normal" fill="#333" style="stroke-width:0.15px">10</text>
<text x="234" y="27.2" font-size="7" text-anchor="end" font-weight="normal" fill="#333" style="stroke-width:0.15px">15</text>
<line x1="237.7" y1="136.6" x2="353.3" y2="136.6" stroke="#1a1a1a" stroke-width="1.3" />
<line x1="296.6" y1="23.8" x2="296.6" y2="136" stroke="#333" stroke-width="1" stroke-dasharray="0.9 1.6"/>
<rect x="243" y="28.8" width="5" height="4.8" fill="#a9022f"/>
<rect x="243" y="38" width="5" height="4.8" fill="#26467e"/>
<text x="250.9" y="33.5" font-size="6.5" text-anchor="start" font-weight="normal" fill="#333" textLength="20.6" lengthAdjust="spacingAndGlyphs" style="stroke-width:0.12px">HNA-3a</text>
<text x="250.9" y="42.7" font-size="6.5" text-anchor="start" font-weight="normal" fill="#333" textLength="20.6" lengthAdjust="spacingAndGlyphs" style="stroke-width:0.12px">HNA-3b</text>
<rect x="242.8" y="103.4" width="5.6" height="33.2" fill="#a9022f"/>
<line x1="242.8" y1="113.7" x2="248.4" y2="113.7" stroke="#111" stroke-width="1.3" />
<circle cx="244.3" cy="103.2" r="1.15" fill="#111"/>
<circle cx="247.6" cy="103.8" r="1.15" fill="#111"/>
<circle cx="244.4" cy="113.7" r="1.15" fill="#111"/>
<circle cx="247.2" cy="113.7" r="1.15" fill="#111"/>
<circle cx="247" cy="134.6" r="1.15" fill="#111"/>
<circle cx="244.5" cy="136.2" r="1.15" fill="#111"/>
<line x1="253.6" y1="118.4" x2="253.6" y2="127.8" stroke="#333" stroke-width="1.1" />
<rect x="250.9" y="127.8" width="5.4" height="8.8" fill="#a9022f"/>
<circle cx="253.6" cy="118.4" r="1.2" fill="#111"/>
<circle cx="252" cy="136.2" r="1.15" fill="#111"/>
<circle cx="253.6" cy="136.2" r="1.15" fill="#111"/>
<circle cx="255.2" cy="136.2" r="1.15" fill="#111"/>
<line x1="261.75" y1="103.4" x2="261.75" y2="114" stroke="#333" stroke-width="1.1" />
<rect x="259.1" y="114" width="5.3" height="22.6" fill="#a9022f"/>
<circle cx="261.75" cy="103.4" r="1.2" fill="#111"/>
<circle cx="260.3" cy="125.9" r="1.15" fill="#111"/>
<circle cx="263" cy="123.9" r="1.15" fill="#111"/>
<circle cx="261.7" cy="136.2" r="1.15" fill="#111"/>
<ellipse cx="274.5" cy="136.6" rx="2.8" ry="1.55" fill="#111"/>
<ellipse cx="282.3" cy="136.6" rx="2.8" ry="1.55" fill="#111"/>
<ellipse cx="290.2" cy="136.6" rx="2.8" ry="1.55" fill="#111"/>
<circle cx="296.5" cy="136.4" r="0.9" fill="#111"/>
<line x1="303.6" y1="54.1" x2="303.6" y2="58.4" stroke="#5a5a5a" stroke-width="1.1" />
<line x1="303.6" y1="116.6" x2="303.6" y2="122.5" stroke="#5a5a5a" stroke-width="1.1" />
<rect x="301" y="58.4" width="5.2" height="58.2" fill="#a9022f"/>
<line x1="301" y1="100.7" x2="306.2" y2="100.7" stroke="#111" stroke-width="1.3" />
<circle cx="303.6" cy="54.1" r="1.2" fill="#111"/>
<circle cx="303.6" cy="122.5" r="1.2" fill="#111"/>
<circle cx="303.6" cy="61.8" r="1.15" fill="#111"/>
<circle cx="303.6" cy="111.9" r="1.15" fill="#111"/>
<line x1="311.25" y1="37" x2="311.25" y2="69.8" stroke="#5a5a5a" stroke-width="1.1" />
<line x1="311.25" y1="122.5" x2="311.25" y2="126.6" stroke="#5a5a5a" stroke-width="1.1" />
<rect x="308.6" y="69.8" width="5.3" height="52.7" fill="#a9022f"/>
<line x1="308.6" y1="108.8" x2="313.9" y2="108.8" stroke="#111" stroke-width="1.3" />
<circle cx="311.25" cy="37" r="1.2" fill="#111"/>
<circle cx="311.25" cy="126.6" r="1.2" fill="#111"/>
<circle cx="311.2" cy="102.2" r="1.15" fill="#111"/>
<circle cx="311.2" cy="118.1" r="1.15" fill="#111"/>
<line x1="319.05" y1="54" x2="319.05" y2="75" stroke="#5a5a5a" stroke-width="1.1" />
<line x1="319.05" y1="106.8" x2="319.05" y2="110.3" stroke="#5a5a5a" stroke-width="1.1" />
<rect x="316.3" y="75" width="5.5" height="31.8" fill="#a9022f"/>
<line x1="316.3" y1="103.8" x2="321.8" y2="103.8" stroke="#111" stroke-width="1.3" />
<circle cx="319.05" cy="54" r="1.2" fill="#111"/>
<circle cx="319.05" cy="110.3" r="1.2" fill="#111"/>
<circle cx="319" cy="95.7" r="1.15" fill="#111"/>
<line x1="332.3" y1="77.9" x2="332.3" y2="82.5" stroke="#5a5a5a" stroke-width="1.1" />
<line x1="332.3" y1="118.1" x2="332.3" y2="130.6" stroke="#5a5a5a" stroke-width="1.1" />
<rect x="330" y="82.5" width="4.6" height="35.6" fill="#26467e"/>
<line x1="330" y1="103.1" x2="334.6" y2="103.1" stroke="#111" stroke-width="1.3" />
<circle cx="332.3" cy="77.9" r="1.2" fill="#111"/>
<circle cx="332.3" cy="130.6" r="1.2" fill="#111"/>
<circle cx="332.3" cy="86.2" r="1.15" fill="#111"/>
<circle cx="332.3" cy="106" r="1.15" fill="#111"/>
<line x1="339.7" y1="84.4" x2="339.7" y2="91.9" stroke="#5a5a5a" stroke-width="1.1" />
<line x1="339.7" y1="113.2" x2="339.7" y2="119.9" stroke="#5a5a5a" stroke-width="1.1" />
<rect x="337.5" y="91.9" width="4.4" height="21.3" fill="#26467e"/>
<line x1="337.5" y1="99.3" x2="341.9" y2="99.3" stroke="#111" stroke-width="1.3" />
<circle cx="339.7" cy="84.4" r="1.2" fill="#111"/>
<circle cx="339.7" cy="119.9" r="1.2" fill="#111"/>
<circle cx="339.7" cy="108.1" r="1.15" fill="#111"/>
<line x1="347.75" y1="48.8" x2="347.75" y2="63.1" stroke="#5a5a5a" stroke-width="1.1" />
<line x1="347.75" y1="127.2" x2="347.75" y2="136.4" stroke="#5a5a5a" stroke-width="1.1" />
<rect x="345.3" y="63.1" width="4.9" height="64.1" fill="#26467e"/>
<line x1="345.3" y1="78.5" x2="350.2" y2="78.5" stroke="#111" stroke-width="1.3" />
<circle cx="347.75" cy="48.8" r="1.2" fill="#111"/>
<circle cx="347.75" cy="136.4" r="1.2" fill="#111"/>
<circle cx="347.7" cy="76.1" r="1.15" fill="#111"/>
<circle cx="347.7" cy="118.5" r="1.15" fill="#111"/>
<text x="218.8" y="145.6" font-size="6.6" text-anchor="start" font-weight="normal" fill="#333" textLength="20.5" lengthAdjust="spacingAndGlyphs">Field #</text>
<text x="245.7" y="145.5" font-size="6.8" text-anchor="middle" font-weight="normal" fill="#333" style="stroke-width:0.25px">1</text>
<text x="253.6" y="145.5" font-size="6.8" text-anchor="middle" font-weight="normal" fill="#333" style="stroke-width:0.25px">2</text>
<text x="261.3" y="145.5" font-size="6.8" text-anchor="middle" font-weight="normal" fill="#333" style="stroke-width:0.25px">3</text>
<text x="274.4" y="145.5" font-size="6.8" text-anchor="middle" font-weight="normal" fill="#333" style="stroke-width:0.25px">1</text>
<text x="282.1" y="145.5" font-size="6.8" text-anchor="middle" font-weight="normal" fill="#333" style="stroke-width:0.25px">2</text>
<text x="289.3" y="145.5" font-size="6.8" text-anchor="middle" font-weight="normal" fill="#333" style="stroke-width:0.25px">3</text>
<text x="303.5" y="145.5" font-size="6.8" text-anchor="middle" font-weight="normal" fill="#333" style="stroke-width:0.25px">1</text>
<text x="311.2" y="145.5" font-size="6.8" text-anchor="middle" font-weight="normal" fill="#333" style="stroke-width:0.25px">2</text>
<text x="318.9" y="145.5" font-size="6.8" text-anchor="middle" font-weight="normal" fill="#333" style="stroke-width:0.25px">3</text>
<text x="331.8" y="145.5" font-size="6.8" text-anchor="middle" font-weight="normal" fill="#333" style="stroke-width:0.25px">1</text>
<text x="339.5" y="145.5" font-size="6.8" text-anchor="middle" font-weight="normal" fill="#333" style="stroke-width:0.25px">2</text>
<text x="347.2" y="145.5" font-size="6.8" text-anchor="middle" font-weight="normal" fill="#333" style="stroke-width:0.25px">3</text>
<text x="249.5" y="158.4" font-size="8.8" text-anchor="start" font-weight="normal" fill="#333" textLength="37.2" lengthAdjust="spacingAndGlyphs">Slow rolling</text>
<text x="249.1" y="168.5" font-size="8.8" text-anchor="start" font-weight="normal" fill="#333" textLength="35.5" lengthAdjust="spacingAndGlyphs">(0-10µm/s)</text>
<text x="315.8" y="158.5" font-size="8.8" text-anchor="start" font-weight="normal" fill="#333" textLength="22.2" lengthAdjust="spacingAndGlyphs">Rolling</text>
<text x="302" y="168.5" font-size="8.8" text-anchor="start" font-weight="normal" fill="#333" textLength="50.3" lengthAdjust="spacingAndGlyphs">(200-500µm/s)</text>
<text transform="translate(210.3,79.4) rotate(-90)" font-size="8.4" text-anchor="middle" font-weight="normal" fill="#333" textLength="57" lengthAdjust="spacingAndGlyphs" style="stroke-width:0.22px">Percentage of total</text>
<text transform="translate(221.8,78.7) rotate(-90)" font-size="8.4" text-anchor="middle" font-weight="normal" fill="#333" textLength="67" lengthAdjust="spacingAndGlyphs" style="stroke-width:0.22px">tracked HEK293T cells</text>
<text x="204.8" y="202.9" font-size="12.6" text-anchor="start" font-weight="bold" fill="#000">D</text>
<line x1="242.2" y1="205.9" x2="242.2" y2="263" stroke="#1a1a1a" stroke-width="1.3" />
<line x1="242.2" y1="267.4" x2="242.2" y2="322.2" stroke="#1a1a1a" stroke-width="1.3" />
<line x1="239.2" y1="208" x2="242.2" y2="208" stroke="#1a1a1a" stroke-width="0.9" />
<line x1="239.2" y1="222.97" x2="242.2" y2="222.97" stroke="#1a1a1a" stroke-width="0.9" />
<line x1="239.2" y1="237.94" x2="242.2" y2="237.94" stroke="#1a1a1a" stroke-width="0.9" />
<line x1="239.2" y1="252.91" x2="242.2" y2="252.91" stroke="#1a1a1a" stroke-width="0.9" />
<line x1="240.4" y1="258.9" x2="242.2" y2="258.9" stroke="#1a1a1a" stroke-width="0.9" />
<line x1="240.4" y1="255.9" x2="242.2" y2="255.9" stroke="#1a1a1a" stroke-width="0.9" />
<line x1="240.4" y1="249.92" x2="242.2" y2="249.92" stroke="#1a1a1a" stroke-width="0.9" />
<line x1="240.4" y1="246.92" x2="242.2" y2="246.92" stroke="#1a1a1a" stroke-width="0.9" />
<line x1="240.4" y1="243.93" x2="242.2" y2="243.93" stroke="#1a1a1a" stroke-width="0.9" />
<line x1="240.4" y1="240.93" x2="242.2" y2="240.93" stroke="#1a1a1a" stroke-width="0.9" />
<line x1="240.4" y1="234.95" x2="242.2" y2="234.95" stroke="#1a1a1a" stroke-width="0.9" />
<line x1="240.4" y1="231.95" x2="242.2" y2="231.95" stroke="#1a1a1a" stroke-width="0.9" />
<line x1="240.4" y1="228.96" x2="242.2" y2="228.96" stroke="#1a1a1a" stroke-width="0.9" />
<line x1="240.4" y1="225.96" x2="242.2" y2="225.96" stroke="#1a1a1a" stroke-width="0.9" />
<line x1="240.4" y1="219.98" x2="242.2" y2="219.98" stroke="#1a1a1a" stroke-width="0.9" />
<line x1="240.4" y1="216.98" x2="242.2" y2="216.98" stroke="#1a1a1a" stroke-width="0.9" />
<line x1="240.4" y1="213.99" x2="242.2" y2="213.99" stroke="#1a1a1a" stroke-width="0.9" />
<line x1="240.4" y1="210.99" x2="242.2" y2="210.99" stroke="#1a1a1a" stroke-width="0.9" />
<line x1="239.3" y1="263" x2="245.6" y2="263" stroke="#1a1a1a" stroke-width="1.1" />
<line x1="239.3" y1="267.4" x2="245.6" y2="267.4" stroke="#1a1a1a" stroke-width="1.1" />
<line x1="239.2" y1="321.6" x2="242.2" y2="321.6" stroke="#1a1a1a" stroke-width="0.9" />
<line x1="239.2" y1="303.53" x2="242.2" y2="303.53" stroke="#1a1a1a" stroke-width="0.9" />
<line x1="239.2" y1="285.46" x2="242.2" y2="285.46" stroke="#1a1a1a" stroke-width="0.9" />
<line x1="240.4" y1="317.99" x2="242.2" y2="317.99" stroke="#1a1a1a" stroke-width="0.9" />
<line x1="240.4" y1="314.37" x2="242.2" y2="314.37" stroke="#1a1a1a" stroke-width="0.9" />
<line x1="240.4" y1="310.76" x2="242.2" y2="310.76" stroke="#1a1a1a" stroke-width="0.9" />
<line x1="240.4" y1="307.14" x2="242.2" y2="307.14" stroke="#1a1a1a" stroke-width="0.9" />
<line x1="240.4" y1="299.92" x2="242.2" y2="299.92" stroke="#1a1a1a" stroke-width="0.9" />
<line x1="240.4" y1="296.3" x2="242.2" y2="296.3" stroke="#1a1a1a" stroke-width="0.9" />
<line x1="240.4" y1="292.69" x2="242.2" y2="292.69" stroke="#1a1a1a" stroke-width="0.9" />
<line x1="240.4" y1="289.07" x2="242.2" y2="289.07" stroke="#1a1a1a" stroke-width="0.9" />
<line x1="240.4" y1="281.85" x2="242.2" y2="281.85" stroke="#1a1a1a" stroke-width="0.9" />
<line x1="240.4" y1="278.23" x2="242.2" y2="278.23" stroke="#1a1a1a" stroke-width="0.9" />
<line x1="240.4" y1="274.62" x2="242.2" y2="274.62" stroke="#1a1a1a" stroke-width="0.9" />
<line x1="240.4" y1="271" x2="242.2" y2="271" stroke="#1a1a1a" stroke-width="0.9" />
<text x="236" y="210.4" font-size="7" text-anchor="end" font-weight="normal" fill="#333" textLength="6.9" lengthAdjust="spacingAndGlyphs" style="stroke-width:0.15px">40</text>
<text x="236" y="225.37" font-size="7" text-anchor="end" font-weight="normal" fill="#333" textLength="6.9" lengthAdjust="spacingAndGlyphs" style="stroke-width:0.15px">30</text>
<text x="236" y="240.34" font-size="7" text-anchor="end" font-weight="normal" fill="#333" textLength="6.9" lengthAdjust="spacingAndGlyphs" style="stroke-width:0.15px">20</text>
<text x="236" y="255.31" font-size="7" text-anchor="end" font-weight="normal" fill="#333" textLength="6.9" lengthAdjust="spacingAndGlyphs" style="stroke-width:0.15px">10</text>
<text x="236" y="269.79" font-size="7" text-anchor="end" font-weight="normal" fill="#333" style="stroke-width:0.15px">3</text>
<text x="236" y="287.86" font-size="7" text-anchor="end" font-weight="normal" fill="#333" style="stroke-width:0.15px">2</text>
<text x="236" y="305.93" font-size="7" text-anchor="end" font-weight="normal" fill="#333" style="stroke-width:0.15px">1</text>
<text x="236" y="324" font-size="7" text-anchor="end" font-weight="normal" fill="#333" style="stroke-width:0.15px">0</text>
<line x1="239.3" y1="321.8" x2="355" y2="321.8" stroke="#1a1a1a" stroke-width="1.3" />
<line x1="298.9" y1="211" x2="298.9" y2="321" stroke="#333" stroke-width="1" stroke-dasharray="0.9 1.6"/>
<rect x="247.3" y="213.7" width="4.8" height="4.5" fill="#a9022f"/>
<rect x="247.3" y="222.8" width="4.8" height="4.6" fill="#26467e"/>
<text x="255.3" y="218.5" font-size="6.5" text-anchor="start" font-weight="normal" fill="#333" textLength="20.6" lengthAdjust="spacingAndGlyphs" style="stroke-width:0.12px">HNA-3a</text>
<text x="255.3" y="227.6" font-size="6.5" text-anchor="start" font-weight="normal" fill="#333" textLength="20.6" lengthAdjust="spacingAndGlyphs" style="stroke-width:0.12px">HNA-3b</text>
<polyline points="254.5,267.6 254.5,265.2 284.6,265.2 284.6,267.6" fill="none" stroke="#333" stroke-width="1.0"/>
<line x1="246.4" y1="269.3" x2="263.3" y2="269.3" stroke="#444" stroke-width="1.1" />
<line x1="274.4" y1="269.3" x2="290.8" y2="269.3" stroke="#444" stroke-width="1.1" />
<circle cx="269.5" cy="259.8" r="0.8" fill="#333"/>
<line x1="247.7" y1="273.8" x2="247.7" y2="286.4" stroke="#222" stroke-width="1.1" />
<line x1="247.7" y1="318.9" x2="247.7" y2="321.6" stroke="#222" stroke-width="1.1" />
<rect x="245" y="286.4" width="5.4" height="32.5" fill="#a9022f"/>
<line x1="245" y1="304.3" x2="250.4" y2="304.3" stroke="#111" stroke-width="1.3" />
<circle cx="247.7" cy="273.8" r="1.2" fill="#111"/>
<circle cx="247.7" cy="321.6" r="1.2" fill="#111"/>
<circle cx="247.7" cy="290.7" r="1.15" fill="#111"/>
<circle cx="247.6" cy="302.3" r="1.15" fill="#111"/>
<circle cx="247.6" cy="306.4" r="1.15" fill="#111"/>
<circle cx="247.6" cy="317.8" r="1.15" fill="#111"/>
<circle cx="247.6" cy="321.4" r="1.15" fill="#111"/>
<rect x="253.1" y="295.5" width="4.8" height="23" fill="#a9022f"/>
<line x1="253.1" y1="307.5" x2="257.9" y2="307.5" stroke="#111" stroke-width="1.3" />
<circle cx="253.6" cy="296.5" r="1.15" fill="#111"/>
<circle cx="257.3" cy="296.5" r="1.15" fill="#111"/>
<circle cx="255.6" cy="301.5" r="1.15" fill="#111"/>
<circle cx="255.6" cy="313.8" r="1.15" fill="#111"/>
<circle cx="254" cy="318.2" r="1.15" fill="#111"/>
<circle cx="257" cy="317" r="1.15" fill="#111"/>
<line x1="263.45" y1="298.8" x2="263.45" y2="304" stroke="#222" stroke-width="1.1" />
<line x1="263.45" y1="316.7" x2="263.45" y2="321.6" stroke="#222" stroke-width="1.1" />
<rect x="261" y="304" width="4.9" height="12.7" fill="#a9022f"/>
<line x1="261" y1="308.4" x2="265.9" y2="308.4" stroke="#111" stroke-width="1.3" />
<circle cx="263.45" cy="298.8" r="1.2" fill="#111"/>
<circle cx="263.45" cy="321.6" r="1.2" fill="#111"/>
<circle cx="262" cy="306" r="1.15" fill="#111"/>
<circle cx="265" cy="307.6" r="1.15" fill="#111"/>
<circle cx="263.5" cy="310.2" r="1.15" fill="#111"/>
<circle cx="263.5" cy="315.2" r="1.15" fill="#111"/>
<circle cx="263.5" cy="321.4" r="1.15" fill="#111"/>
<line x1="276.5" y1="311.3" x2="276.5" y2="321.6" stroke="#111" stroke-width="1" />
<circle cx="276.5" cy="311.3" r="1.1" fill="#111"/>
<circle cx="274.9" cy="321.7" r="1.1" fill="#111"/>
<circle cx="278.1" cy="321.7" r="1.1" fill="#111"/>
<line x1="284.5" y1="318.2" x2="284.5" y2="321.6" stroke="#111" stroke-width="1" />
<circle cx="284.5" cy="318.2" r="1.1" fill="#111"/>
<circle cx="282.9" cy="321.7" r="1.1" fill="#111"/>
<circle cx="286.1" cy="321.7" r="1.1" fill="#111"/>
<line x1="292.3" y1="312" x2="292.3" y2="321.6" stroke="#111" stroke-width="1" />
<circle cx="292.3" cy="312" r="1.1" fill="#111"/>
<circle cx="290.7" cy="321.7" r="1.1" fill="#111"/>
<circle cx="293.9" cy="321.7" r="1.1" fill="#111"/>
<line x1="305.7" y1="232.9" x2="305.7" y2="237.2" stroke="#333" stroke-width="1.1" />
<rect x="303" y="237.2" width="5.4" height="19.5" fill="#a9022f"/>
<line x1="303" y1="242" x2="308.4" y2="242" stroke="#111" stroke-width="1.3" />
<circle cx="305.7" cy="232.9" r="1.2" fill="#111"/>
<circle cx="304" cy="256.5" r="1.15" fill="#111"/>
<circle cx="307" cy="255.5" r="1.15" fill="#111"/>
<circle cx="303.6" cy="242" r="1.15" fill="#111"/>
<circle cx="307" cy="242" r="1.15" fill="#111"/>
<line x1="313.65" y1="221.8" x2="313.65" y2="229.6" stroke="#333" stroke-width="1.1" />
<rect x="311.3" y="229.6" width="4.7" height="24.2" fill="#a9022f"/>
<line x1="311.3" y1="247.3" x2="316" y2="247.3" stroke="#111" stroke-width="1.3" />
<circle cx="313.65" cy="221.8" r="1.2" fill="#111"/>
<circle cx="312" cy="248" r="1.15" fill="#111"/>
<circle cx="315.4" cy="246.5" r="1.15" fill="#111"/>
<circle cx="312" cy="253.6" r="1.15" fill="#111"/>
<circle cx="315.4" cy="252.6" r="1.15" fill="#111"/>
<circle cx="313.6" cy="230.5" r="1.15" fill="#111"/>
<line x1="321.55" y1="217.5" x2="321.55" y2="221.8" stroke="#333" stroke-width="1.1" />
<rect x="318.9" y="221.8" width="5.3" height="38.5" fill="#a9022f"/>
<line x1="318.9" y1="248" x2="324.2" y2="248" stroke="#111" stroke-width="1.3" />
<circle cx="321.55" cy="217.5" r="1.2" fill="#111"/>
<circle cx="321.4" cy="222.3" r="1.15" fill="#111"/>
<circle cx="321.4" cy="241.5" r="1.15" fill="#111"/>
<circle cx="321.4" cy="255" r="1.15" fill="#111"/>
<circle cx="319.6" cy="260.2" r="1.15" fill="#111"/>
<circle cx="323" cy="260.2" r="1.15" fill="#111"/>
<line x1="334.4" y1="244.7" x2="334.4" y2="258.9" stroke="#111" stroke-width="1" />
<circle cx="334.4" cy="244.7" r="1.1" fill="#111"/>
<circle cx="334.4" cy="258.9" r="1.1" fill="#111"/>
<line x1="331.6" y1="254.4" x2="337" y2="254.4" stroke="#111" stroke-width="1.3" />
<line x1="341.9" y1="251.6" x2="341.9" y2="259.7" stroke="#111" stroke-width="1" />
<circle cx="341.9" cy="251.6" r="1.1" fill="#111"/>
<circle cx="341.9" cy="259.7" r="1.1" fill="#111"/>
<line x1="339.4" y1="253.7" x2="344.8" y2="253.7" stroke="#111" stroke-width="1.3" />
<line x1="350.1" y1="241" x2="350.1" y2="249" stroke="#111" stroke-width="1" />
<circle cx="350.1" cy="241" r="1.1" fill="#111"/>
<circle cx="350.1" cy="249" r="1.1" fill="#111"/>
<line x1="347.2" y1="245.8" x2="352.8" y2="245.8" stroke="#111" stroke-width="1.3" />
<circle cx="340.4" cy="251.6" r="1" fill="#111"/>
<text x="222" y="330.8" font-size="6.6" text-anchor="start" font-weight="normal" fill="#333" textLength="20" lengthAdjust="spacingAndGlyphs">Field #</text>
<text x="247.7" y="330.5" font-size="6.8" text-anchor="middle" font-weight="normal" fill="#333" style="stroke-width:0.25px">1</text>
<text x="255.7" y="330.5" font-size="6.8" text-anchor="middle" font-weight="normal" fill="#333" style="stroke-width:0.25px">2</text>
<text x="263.2" y="330.5" font-size="6.8" text-anchor="middle" font-weight="normal" fill="#333" style="stroke-width:0.25px">3</text>
<text x="276" y="330.5" font-size="6.8" text-anchor="middle" font-weight="normal" fill="#333" style="stroke-width:0.25px">1</text>
<text x="284.7" y="330.5" font-size="6.8" text-anchor="middle" font-weight="normal" fill="#333" style="stroke-width:0.25px">2</text>
<text x="292.2" y="330.5" font-size="6.8" text-anchor="middle" font-weight="normal" fill="#333" style="stroke-width:0.25px">3</text>
<text x="304.9" y="330.5" font-size="6.8" text-anchor="middle" font-weight="normal" fill="#333" style="stroke-width:0.25px">1</text>
<text x="312.8" y="330.5" font-size="6.8" text-anchor="middle" font-weight="normal" fill="#333" style="stroke-width:0.25px">2</text>
<text x="319.9" y="330.5" font-size="6.8" text-anchor="middle" font-weight="normal" fill="#333" style="stroke-width:0.25px">3</text>
<text x="334.3" y="330.5" font-size="6.8" text-anchor="middle" font-weight="normal" fill="#333" style="stroke-width:0.25px">1</text>
<text x="342.4" y="330.5" font-size="6.8" text-anchor="middle" font-weight="normal" fill="#333" style="stroke-width:0.25px">2</text>
<text x="349.3" y="330.5" font-size="6.8" text-anchor="middle" font-weight="normal" fill="#333" style="stroke-width:0.25px">3</text>
<text x="246.9" y="344.2" font-size="8.8" text-anchor="start" font-weight="normal" fill="#333" textLength="37.6" lengthAdjust="spacingAndGlyphs">Slow rolling</text>
<text x="246" y="353.7" font-size="8.8" text-anchor="start" font-weight="normal" fill="#333" textLength="37.4" lengthAdjust="spacingAndGlyphs">(0-10µm/s)</text>
<text x="313.3" y="344.1" font-size="8.8" text-anchor="start" font-weight="normal" fill="#333" textLength="22.5" lengthAdjust="spacingAndGlyphs">Rolling</text>
<text x="299.7" y="354.3" font-size="8.8" text-anchor="start" font-weight="normal" fill="#333" textLength="49.6" lengthAdjust="spacingAndGlyphs">(200-500µm/s)</text>
<text transform="translate(212.6,264.7) rotate(-90)" font-size="8.4" text-anchor="middle" font-weight="normal" fill="#333" textLength="56.6" lengthAdjust="spacingAndGlyphs" style="stroke-width:0.22px">Percentage of total</text>
<text transform="translate(223.4,263.4) rotate(-90)" font-size="8.4" text-anchor="middle" font-weight="normal" fill="#333" textLength="55.3" lengthAdjust="spacingAndGlyphs" style="stroke-width:0.22px">tracked neutrophils</text>
<text x="365.3" y="202.5" font-size="12.6" text-anchor="start" font-weight="bold" fill="#000">E</text>
<line x1="399.4" y1="205.9" x2="399.4" y2="322.2" stroke="#1a1a1a" stroke-width="1.3" />
<line x1="396.4" y1="321.6" x2="399.4" y2="321.6" stroke="#1a1a1a" stroke-width="0.9" />
<line x1="396.4" y1="293.48" x2="399.4" y2="293.48" stroke="#1a1a1a" stroke-width="0.9" />
<line x1="396.4" y1="265.36" x2="399.4" y2="265.36" stroke="#1a1a1a" stroke-width="0.9" />
<line x1="396.4" y1="237.24" x2="399.4" y2="237.24" stroke="#1a1a1a" stroke-width="0.9" />
<line x1="396.4" y1="209.12" x2="399.4" y2="209.12" stroke="#1a1a1a" stroke-width="0.9" />
<line x1="397.6" y1="315.98" x2="399.4" y2="315.98" stroke="#1a1a1a" stroke-width="0.9" />
<line x1="397.6" y1="310.35" x2="399.4" y2="310.35" stroke="#1a1a1a" stroke-width="0.9" />
<line x1="397.6" y1="304.73" x2="399.4" y2="304.73" stroke="#1a1a1a" stroke-width="0.9" />
<line x1="397.6" y1="299.1" x2="399.4" y2="299.1" stroke="#1a1a1a" stroke-width="0.9" />
<line x1="397.6" y1="287.86" x2="399.4" y2="287.86" stroke="#1a1a1a" stroke-width="0.9" />
<line x1="397.6" y1="282.23" x2="399.4" y2="282.23" stroke="#1a1a1a" stroke-width="0.9" />
<line x1="397.6" y1="276.61" x2="399.4" y2="276.61" stroke="#1a1a1a" stroke-width="0.9" />
<line x1="397.6" y1="270.98" x2="399.4" y2="270.98" stroke="#1a1a1a" stroke-width="0.9" />
<line x1="397.6" y1="259.74" x2="399.4" y2="259.74" stroke="#1a1a1a" stroke-width="0.9" />
<line x1="397.6" y1="254.11" x2="399.4" y2="254.11" stroke="#1a1a1a" stroke-width="0.9" />
<line x1="397.6" y1="248.49" x2="399.4" y2="248.49" stroke="#1a1a1a" stroke-width="0.9" />
<line x1="397.6" y1="242.86" x2="399.4" y2="242.86" stroke="#1a1a1a" stroke-width="0.9" />
<line x1="397.6" y1="231.62" x2="399.4" y2="231.62" stroke="#1a1a1a" stroke-width="0.9" />
<line x1="397.6" y1="225.99" x2="399.4" y2="225.99" stroke="#1a1a1a" stroke-width="0.9" />
<line x1="397.6" y1="220.37" x2="399.4" y2="220.37" stroke="#1a1a1a" stroke-width="0.9" />
<line x1="397.6" y1="214.74" x2="399.4" y2="214.74" stroke="#1a1a1a" stroke-width="0.9" />
<text transform="translate(393.2,209.12) rotate(-90)" font-size="6.8" text-anchor="middle" font-weight="normal" fill="#333" style="stroke-width:0.15px">4</text>
<text transform="translate(393.2,237.24) rotate(-90)" font-size="6.8" text-anchor="middle" font-weight="normal" fill="#333" style="stroke-width:0.15px">3</text>
<text transform="translate(393.2,265.36) rotate(-90)" font-size="6.8" text-anchor="middle" font-weight="normal" fill="#333" style="stroke-width:0.15px">2</text>
<text transform="translate(393.2,293.48) rotate(-90)" font-size="6.8" text-anchor="middle" font-weight="normal" fill="#333" style="stroke-width:0.15px">1</text>
<text x="393.4" y="323.9" font-size="6.8" text-anchor="end" font-weight="normal" fill="#333" style="stroke-width:0.15px">0</text>
<line x1="395.2" y1="321.8" x2="512.8" y2="321.8" stroke="#1a1a1a" stroke-width="1.3" />
<line x1="455.7" y1="209.1" x2="455.7" y2="321" stroke="#333" stroke-width="1" stroke-dasharray="0.9 1.6"/>
<polyline points="426.1,226 426.1,220.3 485.3,220.3 485.3,226" fill="none" stroke="#222" stroke-width="1.1"/>
<line x1="410" y1="229.8" x2="442.1" y2="229.8" stroke="#7a7a7a" stroke-width="1.8" />
<line x1="469" y1="229.8" x2="501.4" y2="229.8" stroke="#7a7a7a" stroke-width="1.8" />
<circle cx="450.5" cy="216.8" r="0.8" fill="#333"/>
<circle cx="452.9" cy="216.8" r="0.8" fill="#333"/>
<line x1="410.3" y1="281.8" x2="410.3" y2="288.9" stroke="#111" stroke-width="1.2" />
<line x1="407.5" y1="281.8" x2="413.1" y2="281.8" stroke="#111" stroke-width="1.4" />
<rect x="404.9" y="288.9" width="10.8" height="32.7" fill="#6ca541"/>
<line x1="404.9" y1="306.2" x2="415.7" y2="306.2" stroke="#111" stroke-width="1.4" />
<circle cx="410.3" cy="289.2" r="1.1" fill="#111"/>
<circle cx="410.3" cy="293.6" r="1.1" fill="#111"/>
<circle cx="410.3" cy="306.2" r="1.1" fill="#111"/>
<circle cx="408" cy="318.5" r="1.1" fill="#111"/>
<circle cx="408" cy="321.5" r="1.1" fill="#111"/>
<circle cx="412.6" cy="321.3" r="1.1" fill="#111"/>
<line x1="426.35" y1="292.1" x2="426.35" y2="299.8" stroke="#111" stroke-width="1.2" />
<line x1="423.55" y1="292.1" x2="429.15" y2="292.1" stroke="#111" stroke-width="1.4" />
<rect x="420.8" y="299.8" width="11.1" height="21.8" fill="#6ca541"/>
<line x1="420.8" y1="304.2" x2="431.9" y2="304.2" stroke="#111" stroke-width="1.4" />
<circle cx="421.6" cy="302.4" r="1.1" fill="#111"/>
<circle cx="426.3" cy="300" r="1.1" fill="#111"/>
<circle cx="426.3" cy="304.2" r="1.1" fill="#111"/>
<circle cx="422" cy="321.5" r="1.1" fill="#111"/>
<circle cx="426.3" cy="321.5" r="1.1" fill="#111"/>
<circle cx="430.6" cy="321.5" r="1.1" fill="#111"/>
<line x1="442.4" y1="238.8" x2="442.4" y2="299.2" stroke="#111" stroke-width="1.2" />
<line x1="439.6" y1="238.8" x2="445.2" y2="238.8" stroke="#111" stroke-width="1.4" />
<rect x="436.9" y="299.2" width="11" height="22.4" fill="#6ca541"/>
<line x1="436.9" y1="306.1" x2="447.9" y2="306.1" stroke="#111" stroke-width="1.4" />
<circle cx="442.4" cy="300.8" r="1.1" fill="#111"/>
<circle cx="447" cy="299.2" r="1.1" fill="#111"/>
<circle cx="442.4" cy="306.1" r="1.1" fill="#111"/>
<circle cx="438" cy="321.5" r="1.1" fill="#111"/>
<circle cx="442.4" cy="321.5" r="1.1" fill="#111"/>
<circle cx="446.8" cy="321.5" r="1.1" fill="#111"/>
<line x1="469.2" y1="304.5" x2="469.2" y2="315.3" stroke="#111" stroke-width="1.2" />
<line x1="466.4" y1="304.5" x2="472" y2="304.5" stroke="#111" stroke-width="1.4" />
<rect x="464.1" y="315.3" width="10.2" height="6.3" fill="#522662"/>
<circle cx="465.5" cy="321.5" r="1.1" fill="#111"/>
<circle cx="467.5" cy="321.5" r="1.1" fill="#111"/>
<circle cx="469.2" cy="321.5" r="1.1" fill="#111"/>
<circle cx="471" cy="321.5" r="1.1" fill="#111"/>
<circle cx="473" cy="321.5" r="1.1" fill="#111"/>
<line x1="480.7" y1="321.6" x2="490.3" y2="321.6" stroke="#111" stroke-width="2.2" />
<line x1="501.4" y1="286.5" x2="501.4" y2="309" stroke="#111" stroke-width="1.2" />
<line x1="498.6" y1="286.5" x2="504.2" y2="286.5" stroke="#111" stroke-width="1.4" />
<rect x="496.4" y="309" width="10" height="12.6" fill="#522662"/>
<circle cx="497.8" cy="321.5" r="1.1" fill="#111"/>
<circle cx="499.8" cy="321.5" r="1.1" fill="#111"/>
<circle cx="501.5" cy="321.5" r="1.1" fill="#111"/>
<circle cx="503.3" cy="321.5" r="1.1" fill="#111"/>
<circle cx="505.2" cy="321.5" r="1.1" fill="#111"/>
<text x="372.4" y="330.8" font-size="6.6" text-anchor="start" font-weight="normal" fill="#333" textLength="19.6" lengthAdjust="spacingAndGlyphs">Field #</text>
<text x="410.2" y="330.8" font-size="6.8" text-anchor="middle" font-weight="normal" fill="#333" style="stroke-width:0.25px">1</text>
<text x="426.3" y="330.8" font-size="6.8" text-anchor="middle" font-weight="normal" fill="#333" style="stroke-width:0.25px">2</text>
<text x="442.1" y="330.8" font-size="6.8" text-anchor="middle" font-weight="normal" fill="#333" style="stroke-width:0.25px">3</text>
<text x="469.2" y="330.8" font-size="6.8" text-anchor="middle" font-weight="normal" fill="#333" style="stroke-width:0.25px">1</text>
<text x="485.3" y="330.8" font-size="6.8" text-anchor="middle" font-weight="normal" fill="#333" style="stroke-width:0.25px">2</text>
<text x="501" y="330.8" font-size="6.8" text-anchor="middle" font-weight="normal" fill="#333" style="stroke-width:0.25px">3</text>
<text x="408.3" y="340.2" font-size="6.6" text-anchor="start" font-weight="normal" fill="#333" textLength="35.8" lengthAdjust="spacingAndGlyphs">Control IgG</text>
<text x="458.6" y="340.2" font-size="6.6" text-anchor="start" font-weight="normal" fill="#333" textLength="53.2" lengthAdjust="spacingAndGlyphs">Anti-VWF-A1 IgG</text>
<text x="436.9" y="353.3" font-size="8.8" text-anchor="start" font-weight="normal" fill="#333" textLength="37.9" lengthAdjust="spacingAndGlyphs">Slow rolling</text>
<text x="436.9" y="363.1" font-size="8.8" text-anchor="start" font-weight="normal" fill="#333" textLength="36.2" lengthAdjust="spacingAndGlyphs">(0-10µm/s)</text>
<text transform="translate(372.2,264.2) rotate(-90)" font-size="8.4" text-anchor="middle" font-weight="normal" fill="#333" textLength="58.5" lengthAdjust="spacingAndGlyphs" style="stroke-width:0.22px">Percentage of total</text>
<text transform="translate(383.4,264.2) rotate(-90)" font-size="8.4" text-anchor="middle" font-weight="normal" fill="#333" textLength="68.3" lengthAdjust="spacingAndGlyphs" style="stroke-width:0.22px">adherent neutrophils</text>
</svg></body></html>
